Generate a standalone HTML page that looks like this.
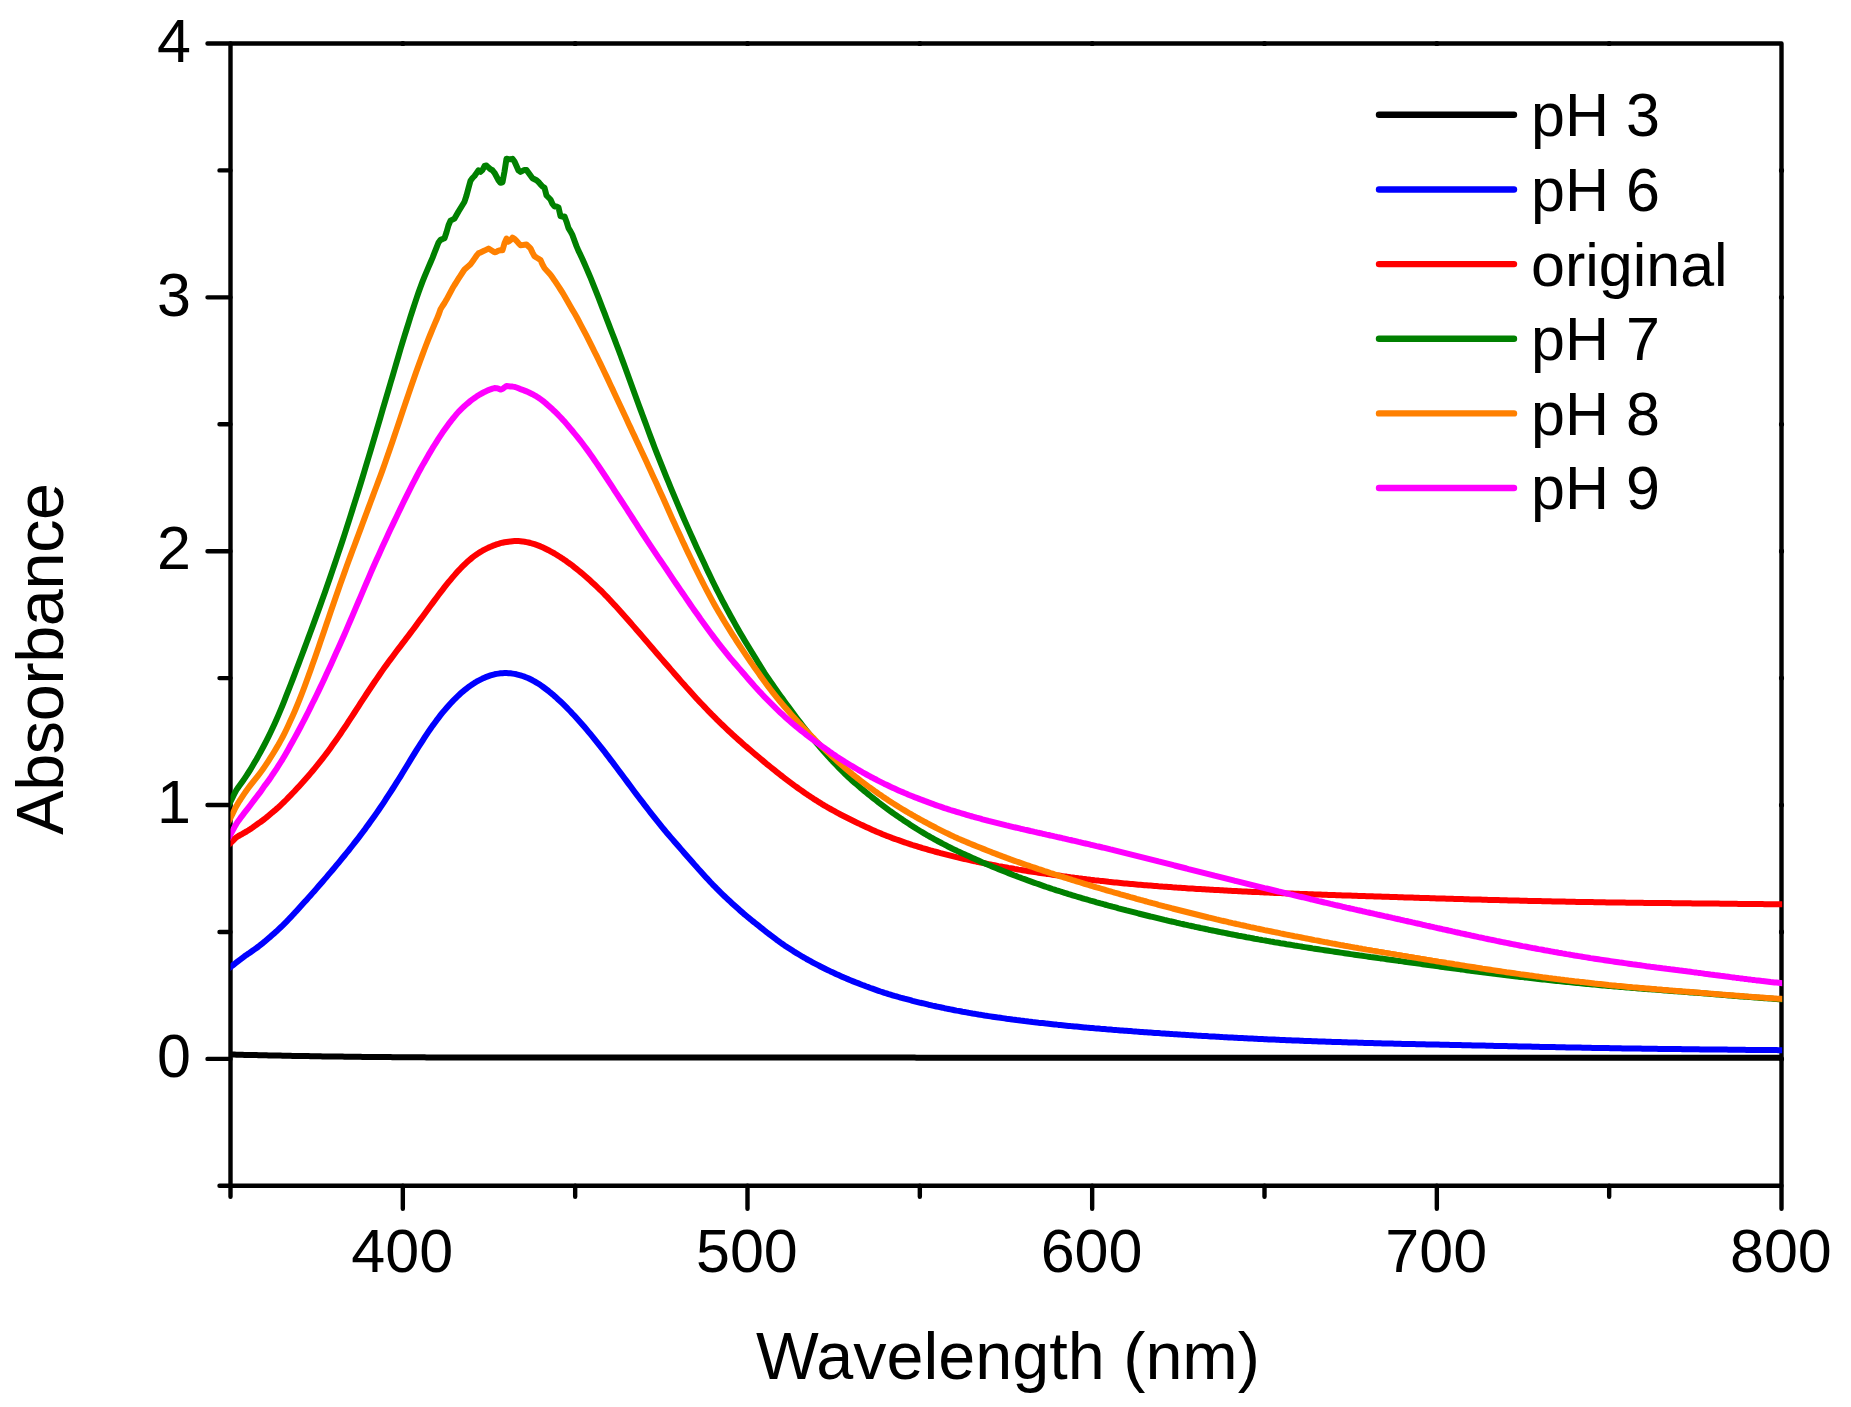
<!DOCTYPE html>
<html lang="en"><head><meta charset="utf-8"><title>UV-Vis absorbance vs wavelength</title>
<style>
html,body{margin:0;padding:0;background:#fff;}
body{width:1851px;height:1407px;overflow:hidden;position:relative;font-family:"Liberation Sans",sans-serif;}
</style></head><body>
<svg width="1851" height="1407" viewBox="0 0 1851 1407" style="display:block;position:absolute;left:0;top:0">
<rect width="1851" height="1407" fill="#fff"/>
<g stroke="#000" stroke-width="4.4" stroke-linecap="round" fill="none">
<path d="M230.5 43.5 H1781.5 M230.5 1185.8 H1781.5 M230.5 43.5 V1185.8 M1781.5 43.5 V1185.8"/>
<path d="M230.50 1185.8 v11 M402.83 1185.8 v23 M575.17 1185.8 v11 M747.50 1185.8 v23 M919.83 1185.8 v11 M1092.17 1185.8 v23 M1264.50 1185.8 v11 M1436.83 1185.8 v23 M1609.17 1185.8 v11 M1781.50 1185.8 v23 M230.5 1185.80 h-11 M230.5 1058.88 h-23 M230.5 931.96 h-11 M230.5 805.03 h-23 M230.5 678.11 h-11 M230.5 551.19 h-23 M230.5 424.27 h-11 M230.5 297.34 h-23 M230.5 170.42 h-11 M230.5 43.50 h-23"/>
<path stroke-width="5.2" d="M402.83 43.5 h0 M575.17 43.5 h0 M747.50 43.5 h0 M919.83 43.5 h0 M1092.17 43.5 h0 M1264.50 43.5 h0 M1436.83 43.5 h0 M1609.17 43.5 h0 M1781.5 1058.88 h0 M1781.5 931.96 h0 M1781.5 805.03 h0 M1781.5 678.11 h0 M1781.5 551.19 h0 M1781.5 424.27 h0 M1781.5 297.34 h0 M1781.5 170.42 h0"/>
</g>
<defs><clipPath id="pc"><rect x="230.5" y="43.5" width="1551.7" height="1142.3"/></clipPath></defs>
<g fill="none" stroke-width="6.0" stroke-linejoin="round" stroke-linecap="butt" clip-path="url(#pc)">
<path stroke="#000000" d="M218.5 1054.3 L220.5 1054.3 L222.5 1054.4 L224.5 1054.4 L226.5 1054.5 L228.5 1054.5 L230.5 1054.5 L232.5 1054.6 L234.5 1054.6 L236.5 1054.7 L238.5 1054.7 L240.5 1054.8 L242.5 1054.8 L244.5 1054.9 L246.5 1054.9 L248.5 1054.9 L250.5 1055.0 L252.5 1055.0 L254.5 1055.1 L256.5 1055.1 L258.5 1055.2 L260.5 1055.2 L262.5 1055.3 L264.5 1055.3 L266.5 1055.3 L268.5 1055.4 L270.5 1055.4 L272.5 1055.5 L274.5 1055.5 L276.5 1055.5 L278.5 1055.6 L280.5 1055.6 L282.5 1055.7 L284.5 1055.7 L286.5 1055.8 L288.5 1055.8 L290.5 1055.8 L292.5 1055.9 L294.5 1055.9 L296.5 1055.9 L298.5 1056.0 L300.5 1056.0 L302.5 1056.0 L304.5 1056.1 L306.5 1056.1 L308.5 1056.1 L310.5 1056.2 L312.5 1056.2 L314.5 1056.2 L316.5 1056.3 L318.5 1056.3 L320.5 1056.3 L322.5 1056.4 L324.5 1056.4 L326.5 1056.4 L328.5 1056.4 L330.5 1056.5 L332.5 1056.5 L334.5 1056.5 L336.5 1056.6 L338.5 1056.6 L340.5 1056.6 L342.5 1056.6 L344.5 1056.7 L346.5 1056.7 L348.5 1056.7 L350.5 1056.7 L352.5 1056.8 L354.5 1056.8 L356.5 1056.8 L358.5 1056.8 L360.5 1056.8 L362.5 1056.9 L364.5 1056.9 L366.5 1056.9 L368.5 1056.9 L370.5 1057.0 L372.5 1057.0 L374.5 1057.0 L376.5 1057.0 L378.5 1057.0 L380.5 1057.1 L382.5 1057.1 L384.5 1057.1 L386.5 1057.1 L388.5 1057.1 L390.5 1057.1 L392.5 1057.2 L394.5 1057.2 L396.5 1057.2 L398.5 1057.2 L400.5 1057.2 L402.5 1057.2 L404.5 1057.2 L406.5 1057.2 L408.5 1057.3 L410.5 1057.3 L412.5 1057.3 L414.5 1057.3 L416.5 1057.3 L418.5 1057.3 L420.5 1057.3 L422.5 1057.3 L424.5 1057.3 L426.5 1057.4 L428.5 1057.4 L430.5 1057.4 L432.5 1057.4 L434.5 1057.4 L436.5 1057.4 L438.5 1057.4 L440.5 1057.4 L442.5 1057.4 L444.5 1057.4 L446.5 1057.5 L448.5 1057.5 L450.5 1057.5 L452.5 1057.5 L454.5 1057.5 L456.5 1057.5 L458.5 1057.5 L460.5 1057.5 L462.5 1057.5 L464.5 1057.5 L466.5 1057.5 L468.5 1057.5 L470.5 1057.5 L472.5 1057.6 L474.5 1057.6 L476.5 1057.6 L478.5 1057.6 L480.5 1057.6 L482.5 1057.6 L484.5 1057.6 L486.5 1057.6 L488.5 1057.6 L490.5 1057.6 L492.5 1057.6 L494.5 1057.6 L496.5 1057.6 L498.5 1057.6 L500.5 1057.6 L502.5 1057.6 L504.5 1057.6 L506.5 1057.6 L508.5 1057.6 L510.5 1057.6 L512.5 1057.6 L514.5 1057.6 L516.5 1057.6 L518.5 1057.6 L520.5 1057.6 L522.5 1057.6 L524.5 1057.6 L526.5 1057.6 L528.5 1057.6 L530.5 1057.6 L532.5 1057.6 L534.5 1057.6 L536.5 1057.6 L538.5 1057.6 L540.5 1057.6 L542.5 1057.6 L544.5 1057.6 L546.5 1057.6 L548.5 1057.6 L550.5 1057.6 L552.5 1057.6 L554.5 1057.6 L556.5 1057.6 L558.5 1057.6 L560.5 1057.6 L562.5 1057.6 L564.5 1057.6 L566.5 1057.6 L568.5 1057.6 L570.5 1057.6 L572.5 1057.6 L574.5 1057.6 L576.5 1057.6 L578.5 1057.6 L580.5 1057.6 L582.5 1057.6 L584.5 1057.6 L586.5 1057.6 L588.5 1057.6 L590.5 1057.6 L592.5 1057.6 L594.5 1057.6 L596.5 1057.6 L598.5 1057.6 L600.5 1057.6 L602.5 1057.6 L604.5 1057.6 L606.5 1057.6 L608.5 1057.6 L610.5 1057.6 L612.5 1057.6 L614.5 1057.6 L616.5 1057.6 L618.5 1057.6 L620.5 1057.6 L622.5 1057.6 L624.5 1057.6 L626.5 1057.6 L628.5 1057.6 L630.5 1057.6 L632.5 1057.6 L634.5 1057.6 L636.5 1057.6 L638.5 1057.6 L640.5 1057.6 L642.5 1057.6 L644.5 1057.6 L646.5 1057.6 L648.5 1057.6 L650.5 1057.6 L652.5 1057.6 L654.5 1057.6 L656.5 1057.6 L658.5 1057.6 L660.5 1057.6 L662.5 1057.6 L664.5 1057.6 L666.5 1057.6 L668.5 1057.6 L670.5 1057.6 L672.5 1057.6 L674.5 1057.6 L676.5 1057.6 L678.5 1057.6 L680.5 1057.6 L682.5 1057.6 L684.5 1057.6 L686.5 1057.6 L688.5 1057.6 L690.5 1057.6 L692.5 1057.6 L694.5 1057.6 L696.5 1057.6 L698.5 1057.6 L700.5 1057.6 L702.5 1057.6 L704.5 1057.6 L706.5 1057.6 L708.5 1057.6 L710.5 1057.6 L712.5 1057.6 L714.5 1057.6 L716.5 1057.6 L718.5 1057.6 L720.5 1057.6 L722.5 1057.6 L724.5 1057.6 L726.5 1057.6 L728.5 1057.6 L730.5 1057.6 L732.5 1057.6 L734.5 1057.6 L736.5 1057.6 L738.5 1057.6 L740.5 1057.6 L742.5 1057.6 L744.5 1057.6 L746.5 1057.6 L748.5 1057.6 L750.5 1057.6 L752.5 1057.6 L754.5 1057.6 L756.5 1057.6 L758.5 1057.6 L760.5 1057.6 L762.5 1057.6 L764.5 1057.6 L766.5 1057.6 L768.5 1057.6 L770.5 1057.6 L772.5 1057.6 L774.5 1057.6 L776.5 1057.6 L778.5 1057.6 L780.5 1057.6 L782.5 1057.6 L784.5 1057.6 L786.5 1057.6 L788.5 1057.6 L790.5 1057.6 L792.5 1057.6 L794.5 1057.6 L796.5 1057.6 L798.5 1057.6 L800.5 1057.6 L802.5 1057.6 L804.5 1057.6 L806.5 1057.6 L808.5 1057.6 L810.5 1057.6 L812.5 1057.6 L814.5 1057.6 L816.5 1057.6 L818.5 1057.6 L820.5 1057.6 L822.5 1057.6 L824.5 1057.6 L826.5 1057.6 L828.5 1057.6 L830.5 1057.6 L832.5 1057.6 L834.5 1057.6 L836.5 1057.6 L838.5 1057.6 L840.5 1057.6 L842.5 1057.6 L844.5 1057.6 L846.5 1057.6 L848.5 1057.6 L850.5 1057.6 L852.5 1057.6 L854.5 1057.6 L856.5 1057.6 L858.5 1057.6 L860.5 1057.6 L862.5 1057.6 L864.5 1057.6 L866.5 1057.6 L868.5 1057.6 L870.5 1057.6 L872.5 1057.6 L874.5 1057.6 L876.5 1057.6 L878.5 1057.6 L880.5 1057.6 L882.5 1057.6 L884.5 1057.6 L886.5 1057.6 L888.5 1057.6 L890.5 1057.6 L892.5 1057.6 L894.5 1057.6 L896.5 1057.6 L898.5 1057.6 L900.5 1057.6 L902.5 1057.6 L904.5 1057.6 L906.5 1057.6 L908.5 1057.6 L910.5 1057.6 L912.5 1057.6 L914.5 1057.6 L916.5 1057.7 L918.5 1057.7 L920.5 1057.7 L922.5 1057.7 L924.5 1057.7 L926.5 1057.7 L928.5 1057.7 L930.5 1057.7 L932.5 1057.7 L934.5 1057.7 L936.5 1057.7 L938.5 1057.7 L940.5 1057.7 L942.5 1057.7 L944.5 1057.7 L946.5 1057.7 L948.5 1057.7 L950.5 1057.7 L952.5 1057.7 L954.5 1057.7 L956.5 1057.7 L958.5 1057.7 L960.5 1057.7 L962.5 1057.7 L964.5 1057.7 L966.5 1057.7 L968.5 1057.7 L970.5 1057.7 L972.5 1057.7 L974.5 1057.7 L976.5 1057.7 L978.5 1057.7 L980.5 1057.7 L982.5 1057.7 L984.5 1057.7 L986.5 1057.7 L988.5 1057.7 L990.5 1057.7 L992.5 1057.7 L994.5 1057.7 L996.5 1057.7 L998.5 1057.7 L1000.5 1057.7 L1002.5 1057.7 L1004.5 1057.7 L1006.5 1057.7 L1008.5 1057.7 L1010.5 1057.7 L1012.5 1057.7 L1014.5 1057.7 L1016.5 1057.7 L1018.5 1057.7 L1020.5 1057.7 L1022.5 1057.7 L1024.5 1057.7 L1026.5 1057.7 L1028.5 1057.7 L1030.5 1057.7 L1032.5 1057.7 L1034.5 1057.7 L1036.5 1057.7 L1038.5 1057.7 L1040.5 1057.7 L1042.5 1057.7 L1044.5 1057.7 L1046.5 1057.7 L1048.5 1057.7 L1050.5 1057.7 L1052.5 1057.7 L1054.5 1057.7 L1056.5 1057.7 L1058.5 1057.7 L1060.5 1057.7 L1062.5 1057.7 L1064.5 1057.7 L1066.5 1057.7 L1068.5 1057.7 L1070.5 1057.7 L1072.5 1057.7 L1074.5 1057.7 L1076.5 1057.7 L1078.5 1057.7 L1080.5 1057.7 L1082.5 1057.7 L1084.5 1057.7 L1086.5 1057.7 L1088.5 1057.7 L1090.5 1057.7 L1092.5 1057.7 L1094.5 1057.7 L1096.5 1057.7 L1098.5 1057.7 L1100.5 1057.7 L1102.5 1057.7 L1104.5 1057.7 L1106.5 1057.7 L1108.5 1057.7 L1110.5 1057.7 L1112.5 1057.7 L1114.5 1057.7 L1116.5 1057.7 L1118.5 1057.7 L1120.5 1057.7 L1122.5 1057.7 L1124.5 1057.7 L1126.5 1057.7 L1128.5 1057.7 L1130.5 1057.7 L1132.5 1057.7 L1134.5 1057.7 L1136.5 1057.7 L1138.5 1057.7 L1140.5 1057.7 L1142.5 1057.7 L1144.5 1057.7 L1146.5 1057.7 L1148.5 1057.7 L1150.5 1057.7 L1152.5 1057.7 L1154.5 1057.7 L1156.5 1057.7 L1158.5 1057.7 L1160.5 1057.7 L1162.5 1057.7 L1164.5 1057.7 L1166.5 1057.7 L1168.5 1057.7 L1170.5 1057.7 L1172.5 1057.7 L1174.5 1057.7 L1176.5 1057.7 L1178.5 1057.7 L1180.5 1057.7 L1182.5 1057.7 L1184.5 1057.7 L1186.5 1057.7 L1188.5 1057.7 L1190.5 1057.7 L1192.5 1057.7 L1194.5 1057.7 L1196.5 1057.7 L1198.5 1057.7 L1200.5 1057.7 L1202.5 1057.7 L1204.5 1057.7 L1206.5 1057.7 L1208.5 1057.7 L1210.5 1057.7 L1212.5 1057.7 L1214.5 1057.7 L1216.5 1057.7 L1218.5 1057.7 L1220.5 1057.7 L1222.5 1057.7 L1224.5 1057.7 L1226.5 1057.7 L1228.5 1057.7 L1230.5 1057.7 L1232.5 1057.7 L1234.5 1057.7 L1236.5 1057.7 L1238.5 1057.7 L1240.5 1057.7 L1242.5 1057.7 L1244.5 1057.7 L1246.5 1057.7 L1248.5 1057.7 L1250.5 1057.7 L1252.5 1057.7 L1254.5 1057.7 L1256.5 1057.7 L1258.5 1057.7 L1260.5 1057.7 L1262.5 1057.7 L1264.5 1057.7 L1266.5 1057.7 L1268.5 1057.7 L1270.5 1057.7 L1272.5 1057.7 L1274.5 1057.7 L1276.5 1057.7 L1278.5 1057.7 L1280.5 1057.7 L1282.5 1057.7 L1284.5 1057.7 L1286.5 1057.7 L1288.5 1057.7 L1290.5 1057.7 L1292.5 1057.7 L1294.5 1057.7 L1296.5 1057.7 L1298.5 1057.7 L1300.5 1057.7 L1302.5 1057.7 L1304.5 1057.7 L1306.5 1057.7 L1308.5 1057.7 L1310.5 1057.7 L1312.5 1057.7 L1314.5 1057.7 L1316.5 1057.7 L1318.5 1057.7 L1320.5 1057.7 L1322.5 1057.7 L1324.5 1057.7 L1326.5 1057.7 L1328.5 1057.7 L1330.5 1057.7 L1332.5 1057.7 L1334.5 1057.7 L1336.5 1057.7 L1338.5 1057.7 L1340.5 1057.7 L1342.5 1057.7 L1344.5 1057.7 L1346.5 1057.7 L1348.5 1057.7 L1350.5 1057.7 L1352.5 1057.7 L1354.5 1057.7 L1356.5 1057.7 L1358.5 1057.7 L1360.5 1057.7 L1362.5 1057.7 L1364.5 1057.7 L1366.5 1057.7 L1368.5 1057.7 L1370.5 1057.7 L1372.5 1057.7 L1374.5 1057.7 L1376.5 1057.7 L1378.5 1057.7 L1380.5 1057.7 L1382.5 1057.7 L1384.5 1057.7 L1386.5 1057.7 L1388.5 1057.7 L1390.5 1057.7 L1392.5 1057.7 L1394.5 1057.7 L1396.5 1057.7 L1398.5 1057.7 L1400.5 1057.7 L1402.5 1057.7 L1404.5 1057.7 L1406.5 1057.7 L1408.5 1057.7 L1410.5 1057.7 L1412.5 1057.7 L1414.5 1057.7 L1416.5 1057.7 L1418.5 1057.7 L1420.5 1057.7 L1422.5 1057.7 L1424.5 1057.7 L1426.5 1057.7 L1428.5 1057.7 L1430.5 1057.7 L1432.5 1057.7 L1434.5 1057.7 L1436.5 1057.7 L1438.5 1057.7 L1440.5 1057.7 L1442.5 1057.7 L1444.5 1057.7 L1446.5 1057.7 L1448.5 1057.7 L1450.5 1057.7 L1452.5 1057.7 L1454.5 1057.7 L1456.5 1057.7 L1458.5 1057.7 L1460.5 1057.7 L1462.5 1057.7 L1464.5 1057.7 L1466.5 1057.7 L1468.5 1057.7 L1470.5 1057.7 L1472.5 1057.7 L1474.5 1057.7 L1476.5 1057.7 L1478.5 1057.7 L1480.5 1057.7 L1482.5 1057.7 L1484.5 1057.7 L1486.5 1057.7 L1488.5 1057.7 L1490.5 1057.7 L1492.5 1057.7 L1494.5 1057.7 L1496.5 1057.7 L1498.5 1057.7 L1500.5 1057.7 L1502.5 1057.7 L1504.5 1057.7 L1506.5 1057.7 L1508.5 1057.7 L1510.5 1057.7 L1512.5 1057.7 L1514.5 1057.7 L1516.5 1057.7 L1518.5 1057.7 L1520.5 1057.7 L1522.5 1057.7 L1524.5 1057.7 L1526.5 1057.7 L1528.5 1057.7 L1530.5 1057.7 L1532.5 1057.7 L1534.5 1057.7 L1536.5 1057.7 L1538.5 1057.7 L1540.5 1057.7 L1542.5 1057.7 L1544.5 1057.7 L1546.5 1057.7 L1548.5 1057.7 L1550.5 1057.7 L1552.5 1057.7 L1554.5 1057.7 L1556.5 1057.7 L1558.5 1057.7 L1560.5 1057.7 L1562.5 1057.7 L1564.5 1057.7 L1566.5 1057.7 L1568.5 1057.7 L1570.5 1057.7 L1572.5 1057.7 L1574.5 1057.7 L1576.5 1057.7 L1578.5 1057.7 L1580.5 1057.7 L1582.5 1057.7 L1584.5 1057.7 L1586.5 1057.7 L1588.5 1057.7 L1590.5 1057.7 L1592.5 1057.7 L1594.5 1057.7 L1596.5 1057.7 L1598.5 1057.7 L1600.5 1057.7 L1602.5 1057.7 L1604.5 1057.7 L1606.5 1057.7 L1608.5 1057.7 L1610.5 1057.7 L1612.5 1057.7 L1614.5 1057.7 L1616.5 1057.7 L1618.5 1057.7 L1620.5 1057.7 L1622.5 1057.7 L1624.5 1057.7 L1626.5 1057.7 L1628.5 1057.7 L1630.5 1057.7 L1632.5 1057.7 L1634.5 1057.7 L1636.5 1057.7 L1638.5 1057.7 L1640.5 1057.7 L1642.5 1057.7 L1644.5 1057.7 L1646.5 1057.7 L1648.5 1057.7 L1650.5 1057.7 L1652.5 1057.7 L1654.5 1057.7 L1656.5 1057.7 L1658.5 1057.7 L1660.5 1057.7 L1662.5 1057.7 L1664.5 1057.7 L1666.5 1057.7 L1668.5 1057.7 L1670.5 1057.7 L1672.5 1057.7 L1674.5 1057.7 L1676.5 1057.7 L1678.5 1057.7 L1680.5 1057.7 L1682.5 1057.7 L1684.5 1057.7 L1686.5 1057.7 L1688.5 1057.7 L1690.5 1057.7 L1692.5 1057.7 L1694.5 1057.7 L1696.5 1057.7 L1698.5 1057.7 L1700.5 1057.7 L1702.5 1057.7 L1704.5 1057.7 L1706.5 1057.7 L1708.5 1057.7 L1710.5 1057.7 L1712.5 1057.7 L1714.5 1057.7 L1716.5 1057.7 L1718.5 1057.7 L1720.5 1057.7 L1722.5 1057.7 L1724.5 1057.7 L1726.5 1057.7 L1728.5 1057.7 L1730.5 1057.7 L1732.5 1057.7 L1734.5 1057.7 L1736.5 1057.7 L1738.5 1057.7 L1740.5 1057.7 L1742.5 1057.7 L1744.5 1057.7 L1746.5 1057.7 L1748.5 1057.7 L1750.5 1057.7 L1752.5 1057.7 L1754.5 1057.7 L1756.5 1057.7 L1758.5 1057.7 L1760.5 1057.7 L1762.5 1057.7 L1764.5 1057.7 L1766.5 1057.7 L1768.5 1057.7 L1770.5 1057.7 L1772.5 1057.7 L1774.5 1057.7 L1776.5 1057.7 L1778.5 1057.7 L1780.5 1057.7 L1782.5 1057.7 L1784.5 1057.7 L1786.5 1057.7 L1788.5 1057.7 L1790.5 1057.7 L1792.5 1057.7"/>
<path stroke="#0000ff" d="M218.5 976.0 L220.5 974.5 L222.5 973.0 L224.5 971.6 L226.5 970.1 L228.5 968.6 L230.5 967.1 L232.5 965.5 L234.5 964.0 L236.5 962.4 L238.5 960.8 L240.5 959.3 L242.5 957.8 L244.5 956.3 L246.5 954.9 L248.5 953.6 L250.5 952.2 L252.5 950.8 L254.5 949.4 L256.5 948.0 L258.5 946.5 L260.5 944.9 L262.5 943.3 L264.5 941.7 L266.5 940.0 L268.5 938.3 L270.5 936.6 L272.5 934.8 L274.5 933.1 L276.5 931.3 L278.5 929.4 L280.5 927.5 L282.5 925.6 L284.5 923.6 L286.5 921.6 L288.5 919.5 L290.5 917.4 L292.5 915.2 L294.5 913.1 L296.5 910.9 L298.5 908.7 L300.5 906.5 L302.5 904.3 L304.5 902.1 L306.5 899.9 L308.5 897.6 L310.5 895.4 L312.5 893.1 L314.5 890.9 L316.5 888.6 L318.5 886.3 L320.5 884.0 L322.5 881.7 L324.5 879.4 L326.5 877.1 L328.5 874.7 L330.5 872.4 L332.5 870.0 L334.5 867.6 L336.5 865.2 L338.5 862.8 L340.5 860.4 L342.5 857.9 L344.5 855.5 L346.5 853.0 L348.5 850.6 L350.5 848.0 L352.5 845.5 L354.5 842.9 L356.5 840.3 L358.5 837.8 L360.5 835.2 L362.5 832.5 L364.5 829.9 L366.5 827.1 L368.5 824.4 L370.5 821.6 L372.5 818.8 L374.5 816.0 L376.5 813.1 L378.5 810.2 L380.5 807.3 L382.5 804.3 L384.5 801.3 L386.5 798.2 L388.5 795.2 L390.5 792.1 L392.5 789.0 L394.5 785.9 L396.5 782.7 L398.5 779.5 L400.5 776.3 L402.5 773.0 L404.5 769.7 L406.5 766.5 L408.5 763.2 L410.5 759.9 L412.5 756.7 L414.5 753.4 L416.5 750.2 L418.5 747.0 L420.5 743.9 L422.5 740.8 L424.5 737.7 L426.5 734.7 L428.5 731.7 L430.5 728.8 L432.5 725.9 L434.5 723.2 L436.5 720.4 L438.5 717.8 L440.5 715.2 L442.5 712.7 L444.5 710.3 L446.5 708.0 L448.5 705.7 L450.5 703.5 L452.5 701.4 L454.5 699.3 L456.5 697.3 L458.5 695.4 L460.5 693.6 L462.5 691.8 L464.5 690.2 L466.5 688.6 L468.5 687.0 L470.5 685.6 L472.5 684.2 L474.5 682.9 L476.5 681.7 L478.5 680.6 L480.5 679.6 L482.5 678.6 L484.5 677.7 L486.5 676.8 L488.5 676.1 L490.5 675.4 L492.5 674.8 L494.5 674.3 L496.5 673.9 L498.5 673.6 L500.5 673.3 L502.5 673.2 L504.5 673.1 L506.5 673.1 L508.5 673.2 L510.5 673.3 L512.5 673.6 L514.5 673.9 L516.5 674.3 L518.5 674.8 L520.5 675.3 L522.5 676.0 L524.5 676.7 L526.5 677.5 L528.5 678.3 L530.5 679.3 L532.5 680.3 L534.5 681.4 L536.5 682.6 L538.5 683.8 L540.5 685.1 L542.5 686.5 L544.5 688.0 L546.5 689.5 L548.5 691.0 L550.5 692.7 L552.5 694.3 L554.5 696.1 L556.5 697.8 L558.5 699.7 L560.5 701.5 L562.5 703.4 L564.5 705.4 L566.5 707.4 L568.5 709.5 L570.5 711.5 L572.5 713.7 L574.5 715.8 L576.5 718.0 L578.5 720.2 L580.5 722.4 L582.5 724.7 L584.5 727.0 L586.5 729.4 L588.5 731.8 L590.5 734.2 L592.5 736.6 L594.5 739.1 L596.5 741.6 L598.5 744.1 L600.5 746.6 L602.5 749.2 L604.5 751.7 L606.5 754.3 L608.5 756.9 L610.5 759.6 L612.5 762.2 L614.5 764.8 L616.5 767.5 L618.5 770.2 L620.5 772.8 L622.5 775.5 L624.5 778.2 L626.5 780.9 L628.5 783.6 L630.5 786.3 L632.5 789.0 L634.5 791.7 L636.5 794.3 L638.5 797.0 L640.5 799.6 L642.5 802.2 L644.5 804.8 L646.5 807.4 L648.5 810.0 L650.5 812.6 L652.5 815.1 L654.5 817.7 L656.5 820.2 L658.5 822.7 L660.5 825.2 L662.5 827.6 L664.5 830.0 L666.5 832.5 L668.5 834.8 L670.5 837.1 L672.5 839.4 L674.5 841.7 L676.5 844.0 L678.5 846.3 L680.5 848.6 L682.5 850.9 L684.5 853.2 L686.5 855.5 L688.5 857.7 L690.5 860.0 L692.5 862.3 L694.5 864.6 L696.5 866.8 L698.5 869.1 L700.5 871.3 L702.5 873.5 L704.5 875.7 L706.5 877.9 L708.5 880.0 L710.5 882.2 L712.5 884.3 L714.5 886.3 L716.5 888.4 L718.5 890.4 L720.5 892.4 L722.5 894.3 L724.5 896.2 L726.5 898.1 L728.5 900.0 L730.5 901.8 L732.5 903.7 L734.5 905.5 L736.5 907.3 L738.5 909.1 L740.5 910.9 L742.5 912.6 L744.5 914.4 L746.5 916.0 L748.5 917.7 L750.5 919.3 L752.5 921.0 L754.5 922.5 L756.5 924.1 L758.5 925.7 L760.5 927.3 L762.5 928.9 L764.5 930.5 L766.5 932.1 L768.5 933.6 L770.5 935.2 L772.5 936.7 L774.5 938.2 L776.5 939.7 L778.5 941.1 L780.5 942.6 L782.5 944.0 L784.5 945.4 L786.5 946.7 L788.5 948.0 L790.5 949.3 L792.5 950.6 L794.5 951.9 L796.5 953.1 L798.5 954.3 L800.5 955.5 L802.5 956.7 L804.5 957.8 L806.5 959.0 L808.5 960.1 L810.5 961.2 L812.5 962.3 L814.5 963.4 L816.5 964.4 L818.5 965.4 L820.5 966.5 L822.5 967.5 L824.5 968.5 L826.5 969.5 L828.5 970.4 L830.5 971.4 L832.5 972.3 L834.5 973.2 L836.5 974.2 L838.5 975.1 L840.5 976.0 L842.5 976.9 L844.5 977.7 L846.5 978.6 L848.5 979.4 L850.5 980.3 L852.5 981.1 L854.5 981.9 L856.5 982.7 L858.5 983.4 L860.5 984.2 L862.5 985.0 L864.5 985.7 L866.5 986.5 L868.5 987.2 L870.5 988.0 L872.5 988.7 L874.5 989.4 L876.5 990.1 L878.5 990.8 L880.5 991.5 L882.5 992.1 L884.5 992.8 L886.5 993.4 L888.5 994.1 L890.5 994.7 L892.5 995.3 L894.5 995.9 L896.5 996.4 L898.5 997.0 L900.5 997.6 L902.5 998.1 L904.5 998.7 L906.5 999.2 L908.5 999.7 L910.5 1000.2 L912.5 1000.8 L914.5 1001.3 L916.5 1001.8 L918.5 1002.3 L920.5 1002.8 L922.5 1003.2 L924.5 1003.7 L926.5 1004.2 L928.5 1004.7 L930.5 1005.1 L932.5 1005.6 L934.5 1006.0 L936.5 1006.5 L938.5 1006.9 L940.5 1007.3 L942.5 1007.7 L944.5 1008.2 L946.5 1008.6 L948.5 1009.0 L950.5 1009.4 L952.5 1009.8 L954.5 1010.2 L956.5 1010.6 L958.5 1010.9 L960.5 1011.3 L962.5 1011.7 L964.5 1012.0 L966.5 1012.4 L968.5 1012.8 L970.5 1013.1 L972.5 1013.5 L974.5 1013.8 L976.5 1014.1 L978.5 1014.5 L980.5 1014.8 L982.5 1015.1 L984.5 1015.5 L986.5 1015.8 L988.5 1016.1 L990.5 1016.4 L992.5 1016.7 L994.5 1017.0 L996.5 1017.3 L998.5 1017.6 L1000.5 1017.8 L1002.5 1018.1 L1004.5 1018.4 L1006.5 1018.7 L1008.5 1018.9 L1010.5 1019.2 L1012.5 1019.5 L1014.5 1019.7 L1016.5 1020.0 L1018.5 1020.2 L1020.5 1020.5 L1022.5 1020.7 L1024.5 1021.0 L1026.5 1021.2 L1028.5 1021.5 L1030.5 1021.7 L1032.5 1022.0 L1034.5 1022.2 L1036.5 1022.4 L1038.5 1022.7 L1040.5 1022.9 L1042.5 1023.1 L1044.5 1023.3 L1046.5 1023.6 L1048.5 1023.8 L1050.5 1024.0 L1052.5 1024.2 L1054.5 1024.4 L1056.5 1024.6 L1058.5 1024.9 L1060.5 1025.1 L1062.5 1025.3 L1064.5 1025.5 L1066.5 1025.7 L1068.5 1025.9 L1070.5 1026.1 L1072.5 1026.2 L1074.5 1026.4 L1076.5 1026.6 L1078.5 1026.8 L1080.5 1027.0 L1082.5 1027.2 L1084.5 1027.4 L1086.5 1027.6 L1088.5 1027.7 L1090.5 1027.9 L1092.5 1028.1 L1094.5 1028.3 L1096.5 1028.4 L1098.5 1028.6 L1100.5 1028.8 L1102.5 1028.9 L1104.5 1029.1 L1106.5 1029.3 L1108.5 1029.4 L1110.5 1029.6 L1112.5 1029.8 L1114.5 1029.9 L1116.5 1030.1 L1118.5 1030.2 L1120.5 1030.4 L1122.5 1030.5 L1124.5 1030.7 L1126.5 1030.8 L1128.5 1031.0 L1130.5 1031.1 L1132.5 1031.3 L1134.5 1031.4 L1136.5 1031.6 L1138.5 1031.7 L1140.5 1031.9 L1142.5 1032.0 L1144.5 1032.2 L1146.5 1032.3 L1148.5 1032.5 L1150.5 1032.6 L1152.5 1032.7 L1154.5 1032.9 L1156.5 1033.0 L1158.5 1033.1 L1160.5 1033.3 L1162.5 1033.4 L1164.5 1033.5 L1166.5 1033.7 L1168.5 1033.8 L1170.5 1033.9 L1172.5 1034.1 L1174.5 1034.2 L1176.5 1034.3 L1178.5 1034.4 L1180.5 1034.6 L1182.5 1034.7 L1184.5 1034.8 L1186.5 1034.9 L1188.5 1035.1 L1190.5 1035.2 L1192.5 1035.3 L1194.5 1035.4 L1196.5 1035.6 L1198.5 1035.7 L1200.5 1035.8 L1202.5 1035.9 L1204.5 1036.0 L1206.5 1036.1 L1208.5 1036.3 L1210.5 1036.4 L1212.5 1036.5 L1214.5 1036.6 L1216.5 1036.7 L1218.5 1036.8 L1220.5 1036.9 L1222.5 1037.1 L1224.5 1037.2 L1226.5 1037.3 L1228.5 1037.4 L1230.5 1037.5 L1232.5 1037.6 L1234.5 1037.7 L1236.5 1037.8 L1238.5 1037.9 L1240.5 1038.0 L1242.5 1038.1 L1244.5 1038.2 L1246.5 1038.3 L1248.5 1038.4 L1250.5 1038.5 L1252.5 1038.6 L1254.5 1038.7 L1256.5 1038.8 L1258.5 1038.9 L1260.5 1039.0 L1262.5 1039.1 L1264.5 1039.2 L1266.5 1039.3 L1268.5 1039.4 L1270.5 1039.5 L1272.5 1039.6 L1274.5 1039.6 L1276.5 1039.7 L1278.5 1039.8 L1280.5 1039.9 L1282.5 1040.0 L1284.5 1040.1 L1286.5 1040.2 L1288.5 1040.2 L1290.5 1040.3 L1292.5 1040.4 L1294.5 1040.5 L1296.5 1040.6 L1298.5 1040.6 L1300.5 1040.7 L1302.5 1040.8 L1304.5 1040.9 L1306.5 1040.9 L1308.5 1041.0 L1310.5 1041.1 L1312.5 1041.2 L1314.5 1041.2 L1316.5 1041.3 L1318.5 1041.4 L1320.5 1041.5 L1322.5 1041.5 L1324.5 1041.6 L1326.5 1041.7 L1328.5 1041.7 L1330.5 1041.8 L1332.5 1041.9 L1334.5 1041.9 L1336.5 1042.0 L1338.5 1042.1 L1340.5 1042.1 L1342.5 1042.2 L1344.5 1042.3 L1346.5 1042.3 L1348.5 1042.4 L1350.5 1042.5 L1352.5 1042.5 L1354.5 1042.6 L1356.5 1042.6 L1358.5 1042.7 L1360.5 1042.8 L1362.5 1042.8 L1364.5 1042.9 L1366.5 1042.9 L1368.5 1043.0 L1370.5 1043.1 L1372.5 1043.1 L1374.5 1043.2 L1376.5 1043.2 L1378.5 1043.3 L1380.5 1043.3 L1382.5 1043.4 L1384.5 1043.4 L1386.5 1043.5 L1388.5 1043.5 L1390.5 1043.6 L1392.5 1043.6 L1394.5 1043.7 L1396.5 1043.7 L1398.5 1043.8 L1400.5 1043.8 L1402.5 1043.9 L1404.5 1043.9 L1406.5 1043.9 L1408.5 1044.0 L1410.5 1044.0 L1412.5 1044.1 L1414.5 1044.1 L1416.5 1044.2 L1418.5 1044.2 L1420.5 1044.2 L1422.5 1044.3 L1424.5 1044.3 L1426.5 1044.4 L1428.5 1044.4 L1430.5 1044.5 L1432.5 1044.5 L1434.5 1044.5 L1436.5 1044.6 L1438.5 1044.6 L1440.5 1044.7 L1442.5 1044.7 L1444.5 1044.8 L1446.5 1044.8 L1448.5 1044.8 L1450.5 1044.9 L1452.5 1044.9 L1454.5 1045.0 L1456.5 1045.0 L1458.5 1045.1 L1460.5 1045.1 L1462.5 1045.2 L1464.5 1045.2 L1466.5 1045.2 L1468.5 1045.3 L1470.5 1045.3 L1472.5 1045.4 L1474.5 1045.4 L1476.5 1045.5 L1478.5 1045.5 L1480.5 1045.6 L1482.5 1045.6 L1484.5 1045.6 L1486.5 1045.7 L1488.5 1045.7 L1490.5 1045.8 L1492.5 1045.8 L1494.5 1045.9 L1496.5 1045.9 L1498.5 1046.0 L1500.5 1046.0 L1502.5 1046.0 L1504.5 1046.1 L1506.5 1046.1 L1508.5 1046.2 L1510.5 1046.2 L1512.5 1046.3 L1514.5 1046.3 L1516.5 1046.3 L1518.5 1046.4 L1520.5 1046.4 L1522.5 1046.5 L1524.5 1046.5 L1526.5 1046.6 L1528.5 1046.6 L1530.5 1046.6 L1532.5 1046.7 L1534.5 1046.7 L1536.5 1046.8 L1538.5 1046.8 L1540.5 1046.9 L1542.5 1046.9 L1544.5 1046.9 L1546.5 1047.0 L1548.5 1047.0 L1550.5 1047.1 L1552.5 1047.1 L1554.5 1047.1 L1556.5 1047.2 L1558.5 1047.2 L1560.5 1047.3 L1562.5 1047.3 L1564.5 1047.3 L1566.5 1047.4 L1568.5 1047.4 L1570.5 1047.4 L1572.5 1047.5 L1574.5 1047.5 L1576.5 1047.6 L1578.5 1047.6 L1580.5 1047.6 L1582.5 1047.7 L1584.5 1047.7 L1586.5 1047.7 L1588.5 1047.8 L1590.5 1047.8 L1592.5 1047.9 L1594.5 1047.9 L1596.5 1047.9 L1598.5 1048.0 L1600.5 1048.0 L1602.5 1048.0 L1604.5 1048.1 L1606.5 1048.1 L1608.5 1048.1 L1610.5 1048.2 L1612.5 1048.2 L1614.5 1048.2 L1616.5 1048.3 L1618.5 1048.3 L1620.5 1048.3 L1622.5 1048.4 L1624.5 1048.4 L1626.5 1048.4 L1628.5 1048.4 L1630.5 1048.5 L1632.5 1048.5 L1634.5 1048.5 L1636.5 1048.6 L1638.5 1048.6 L1640.5 1048.6 L1642.5 1048.7 L1644.5 1048.7 L1646.5 1048.7 L1648.5 1048.7 L1650.5 1048.8 L1652.5 1048.8 L1654.5 1048.8 L1656.5 1048.8 L1658.5 1048.9 L1660.5 1048.9 L1662.5 1048.9 L1664.5 1048.9 L1666.5 1049.0 L1668.5 1049.0 L1670.5 1049.0 L1672.5 1049.0 L1674.5 1049.1 L1676.5 1049.1 L1678.5 1049.1 L1680.5 1049.1 L1682.5 1049.2 L1684.5 1049.2 L1686.5 1049.2 L1688.5 1049.2 L1690.5 1049.2 L1692.5 1049.3 L1694.5 1049.3 L1696.5 1049.3 L1698.5 1049.3 L1700.5 1049.4 L1702.5 1049.4 L1704.5 1049.4 L1706.5 1049.4 L1708.5 1049.4 L1710.5 1049.5 L1712.5 1049.5 L1714.5 1049.5 L1716.5 1049.5 L1718.5 1049.6 L1720.5 1049.6 L1722.5 1049.6 L1724.5 1049.6 L1726.5 1049.6 L1728.5 1049.7 L1730.5 1049.7 L1732.5 1049.7 L1734.5 1049.7 L1736.5 1049.7 L1738.5 1049.8 L1740.5 1049.8 L1742.5 1049.8 L1744.5 1049.8 L1746.5 1049.9 L1748.5 1049.9 L1750.5 1049.9 L1752.5 1049.9 L1754.5 1049.9 L1756.5 1050.0 L1758.5 1050.0 L1760.5 1050.0 L1762.5 1050.0 L1764.5 1050.0 L1766.5 1050.0 L1768.5 1050.1 L1770.5 1050.1 L1772.5 1050.1 L1774.5 1050.1 L1776.5 1050.1 L1778.5 1050.2 L1780.5 1050.2 L1782.5 1050.2 L1784.5 1050.2 L1786.5 1050.2 L1788.5 1050.2 L1790.5 1050.3 L1792.5 1050.3"/>
<path stroke="#ff0000" d="M218.5 852.9 L220.5 851.4 L222.5 849.8 L224.5 848.2 L226.5 846.6 L228.5 844.9 L230.5 843.2 L232.5 841.2 L234.5 839.1 L236.5 837.3 L238.5 836.0 L240.5 834.9 L242.5 833.8 L244.5 832.6 L246.5 831.5 L248.5 830.3 L250.5 829.0 L252.5 827.6 L254.5 826.1 L256.5 824.7 L258.5 823.3 L260.5 822.0 L262.5 820.5 L264.5 819.0 L266.5 817.4 L268.5 815.7 L270.5 814.0 L272.5 812.3 L274.5 810.7 L276.5 808.9 L278.5 807.2 L280.5 805.3 L282.5 803.4 L284.5 801.5 L286.5 799.5 L288.5 797.4 L290.5 795.4 L292.5 793.3 L294.5 791.2 L296.5 789.0 L298.5 786.9 L300.5 784.7 L302.5 782.5 L304.5 780.2 L306.5 778.0 L308.5 775.7 L310.5 773.4 L312.5 771.0 L314.5 768.6 L316.5 766.2 L318.5 763.7 L320.5 761.2 L322.5 758.6 L324.5 756.0 L326.5 753.4 L328.5 750.7 L330.5 747.9 L332.5 745.1 L334.5 742.3 L336.5 739.5 L338.5 736.6 L340.5 733.7 L342.5 730.7 L344.5 727.8 L346.5 724.8 L348.5 721.7 L350.5 718.7 L352.5 715.6 L354.5 712.5 L356.5 709.4 L358.5 706.3 L360.5 703.2 L362.5 700.2 L364.5 697.1 L366.5 694.0 L368.5 691.0 L370.5 688.0 L372.5 685.0 L374.5 682.0 L376.5 679.1 L378.5 676.2 L380.5 673.3 L382.5 670.4 L384.5 667.6 L386.5 664.9 L388.5 662.1 L390.5 659.4 L392.5 656.7 L394.5 654.0 L396.5 651.3 L398.5 648.7 L400.5 646.1 L402.5 643.4 L404.5 640.8 L406.5 638.2 L408.5 635.6 L410.5 632.9 L412.5 630.2 L414.5 627.6 L416.5 624.9 L418.5 622.1 L420.5 619.4 L422.5 616.7 L424.5 614.0 L426.5 611.3 L428.5 608.5 L430.5 605.8 L432.5 603.1 L434.5 600.4 L436.5 597.7 L438.5 595.0 L440.5 592.4 L442.5 589.8 L444.5 587.2 L446.5 584.7 L448.5 582.2 L450.5 579.8 L452.5 577.4 L454.5 575.1 L456.5 572.8 L458.5 570.6 L460.5 568.5 L462.5 566.4 L464.5 564.5 L466.5 562.6 L468.5 560.8 L470.5 559.1 L472.5 557.4 L474.5 555.9 L476.5 554.5 L478.5 553.1 L480.5 551.9 L482.5 550.7 L484.5 549.6 L486.5 548.6 L488.5 547.6 L490.5 546.8 L492.5 545.9 L494.5 545.2 L496.5 544.4 L498.5 543.8 L500.5 543.2 L502.5 542.7 L504.5 542.3 L506.5 542.0 L508.5 541.7 L510.5 541.4 L512.5 541.2 L514.5 541.1 L516.5 541.1 L518.5 541.1 L520.5 541.2 L522.5 541.4 L524.5 541.7 L526.5 542.1 L528.5 542.5 L530.5 543.0 L532.5 543.6 L534.5 544.2 L536.5 544.9 L538.5 545.6 L540.5 546.4 L542.5 547.3 L544.5 548.2 L546.5 549.2 L548.5 550.2 L550.5 551.3 L552.5 552.4 L554.5 553.5 L556.5 554.7 L558.5 556.0 L560.5 557.2 L562.5 558.6 L564.5 559.9 L566.5 561.3 L568.5 562.8 L570.5 564.2 L572.5 565.7 L574.5 567.3 L576.5 568.9 L578.5 570.5 L580.5 572.1 L582.5 573.8 L584.5 575.5 L586.5 577.2 L588.5 579.0 L590.5 580.8 L592.5 582.7 L594.5 584.5 L596.5 586.4 L598.5 588.3 L600.5 590.2 L602.5 592.2 L604.5 594.3 L606.5 596.3 L608.5 598.4 L610.5 600.6 L612.5 602.7 L614.5 604.9 L616.5 607.0 L618.5 609.2 L620.5 611.4 L622.5 613.7 L624.5 615.9 L626.5 618.2 L628.5 620.5 L630.5 622.8 L632.5 625.1 L634.5 627.4 L636.5 629.7 L638.5 632.0 L640.5 634.3 L642.5 636.7 L644.5 639.0 L646.5 641.3 L648.5 643.7 L650.5 646.0 L652.5 648.3 L654.5 650.7 L656.5 653.0 L658.5 655.3 L660.5 657.6 L662.5 659.9 L664.5 662.2 L666.5 664.5 L668.5 666.8 L670.5 669.1 L672.5 671.4 L674.5 673.7 L676.5 676.0 L678.5 678.3 L680.5 680.6 L682.5 682.9 L684.5 685.1 L686.5 687.4 L688.5 689.6 L690.5 691.8 L692.5 694.0 L694.5 696.2 L696.5 698.4 L698.5 700.6 L700.5 702.7 L702.5 704.8 L704.5 706.9 L706.5 709.0 L708.5 711.1 L710.5 713.1 L712.5 715.2 L714.5 717.2 L716.5 719.2 L718.5 721.1 L720.5 723.1 L722.5 725.0 L724.5 726.9 L726.5 728.8 L728.5 730.7 L730.5 732.6 L732.5 734.4 L734.5 736.2 L736.5 738.1 L738.5 739.9 L740.5 741.6 L742.5 743.4 L744.5 745.2 L746.5 746.9 L748.5 748.6 L750.5 750.3 L752.5 752.0 L754.5 753.7 L756.5 755.4 L758.5 757.0 L760.5 758.7 L762.5 760.4 L764.5 762.1 L766.5 763.8 L768.5 765.4 L770.5 767.0 L772.5 768.6 L774.5 770.2 L776.5 771.8 L778.5 773.4 L780.5 775.0 L782.5 776.5 L784.5 778.1 L786.5 779.6 L788.5 781.1 L790.5 782.6 L792.5 784.1 L794.5 785.6 L796.5 787.0 L798.5 788.5 L800.5 789.9 L802.5 791.3 L804.5 792.7 L806.5 794.1 L808.5 795.4 L810.5 796.8 L812.5 798.1 L814.5 799.4 L816.5 800.6 L818.5 801.9 L820.5 803.1 L822.5 804.4 L824.5 805.6 L826.5 806.7 L828.5 807.9 L830.5 809.0 L832.5 810.1 L834.5 811.2 L836.5 812.3 L838.5 813.4 L840.5 814.5 L842.5 815.5 L844.5 816.5 L846.5 817.5 L848.5 818.5 L850.5 819.5 L852.5 820.5 L854.5 821.5 L856.5 822.5 L858.5 823.4 L860.5 824.4 L862.5 825.3 L864.5 826.3 L866.5 827.2 L868.5 828.1 L870.5 829.0 L872.5 829.9 L874.5 830.8 L876.5 831.7 L878.5 832.5 L880.5 833.3 L882.5 834.2 L884.5 835.0 L886.5 835.8 L888.5 836.5 L890.5 837.3 L892.5 838.1 L894.5 838.8 L896.5 839.5 L898.5 840.2 L900.5 840.9 L902.5 841.6 L904.5 842.3 L906.5 843.0 L908.5 843.7 L910.5 844.3 L912.5 845.0 L914.5 845.6 L916.5 846.2 L918.5 846.8 L920.5 847.4 L922.5 848.1 L924.5 848.6 L926.5 849.2 L928.5 849.8 L930.5 850.4 L932.5 850.9 L934.5 851.5 L936.5 852.0 L938.5 852.5 L940.5 853.1 L942.5 853.6 L944.5 854.1 L946.5 854.6 L948.5 855.1 L950.5 855.6 L952.5 856.1 L954.5 856.6 L956.5 857.1 L958.5 857.5 L960.5 858.0 L962.5 858.5 L964.5 859.0 L966.5 859.4 L968.5 859.9 L970.5 860.3 L972.5 860.8 L974.5 861.2 L976.5 861.7 L978.5 862.1 L980.5 862.5 L982.5 862.9 L984.5 863.3 L986.5 863.7 L988.5 864.1 L990.5 864.5 L992.5 864.9 L994.5 865.3 L996.5 865.7 L998.5 866.1 L1000.5 866.4 L1002.5 866.8 L1004.5 867.1 L1006.5 867.5 L1008.5 867.9 L1010.5 868.2 L1012.5 868.5 L1014.5 868.9 L1016.5 869.2 L1018.5 869.6 L1020.5 869.9 L1022.5 870.2 L1024.5 870.5 L1026.5 870.8 L1028.5 871.2 L1030.5 871.5 L1032.5 871.8 L1034.5 872.1 L1036.5 872.4 L1038.5 872.7 L1040.5 873.0 L1042.5 873.3 L1044.5 873.6 L1046.5 873.9 L1048.5 874.1 L1050.5 874.4 L1052.5 874.7 L1054.5 875.0 L1056.5 875.3 L1058.5 875.5 L1060.5 875.8 L1062.5 876.1 L1064.5 876.4 L1066.5 876.6 L1068.5 876.9 L1070.5 877.2 L1072.5 877.4 L1074.5 877.7 L1076.5 877.9 L1078.5 878.2 L1080.5 878.4 L1082.5 878.7 L1084.5 878.9 L1086.5 879.2 L1088.5 879.4 L1090.5 879.7 L1092.5 879.9 L1094.5 880.2 L1096.5 880.4 L1098.5 880.6 L1100.5 880.9 L1102.5 881.1 L1104.5 881.3 L1106.5 881.5 L1108.5 881.8 L1110.5 882.0 L1112.5 882.2 L1114.5 882.4 L1116.5 882.6 L1118.5 882.8 L1120.5 883.0 L1122.5 883.2 L1124.5 883.4 L1126.5 883.6 L1128.5 883.8 L1130.5 884.0 L1132.5 884.1 L1134.5 884.3 L1136.5 884.5 L1138.5 884.7 L1140.5 884.8 L1142.5 885.0 L1144.5 885.2 L1146.5 885.3 L1148.5 885.5 L1150.5 885.6 L1152.5 885.8 L1154.5 886.0 L1156.5 886.1 L1158.5 886.3 L1160.5 886.4 L1162.5 886.6 L1164.5 886.7 L1166.5 886.8 L1168.5 887.0 L1170.5 887.1 L1172.5 887.3 L1174.5 887.4 L1176.5 887.6 L1178.5 887.7 L1180.5 887.8 L1182.5 888.0 L1184.5 888.1 L1186.5 888.2 L1188.5 888.4 L1190.5 888.5 L1192.5 888.6 L1194.5 888.7 L1196.5 888.9 L1198.5 889.0 L1200.5 889.1 L1202.5 889.2 L1204.5 889.3 L1206.5 889.5 L1208.5 889.6 L1210.5 889.7 L1212.5 889.8 L1214.5 889.9 L1216.5 890.0 L1218.5 890.1 L1220.5 890.2 L1222.5 890.3 L1224.5 890.5 L1226.5 890.6 L1228.5 890.7 L1230.5 890.8 L1232.5 890.9 L1234.5 891.0 L1236.5 891.1 L1238.5 891.2 L1240.5 891.3 L1242.5 891.4 L1244.5 891.5 L1246.5 891.6 L1248.5 891.7 L1250.5 891.8 L1252.5 891.9 L1254.5 892.0 L1256.5 892.1 L1258.5 892.1 L1260.5 892.2 L1262.5 892.3 L1264.5 892.4 L1266.5 892.5 L1268.5 892.6 L1270.5 892.7 L1272.5 892.8 L1274.5 892.9 L1276.5 892.9 L1278.5 893.0 L1280.5 893.1 L1282.5 893.2 L1284.5 893.3 L1286.5 893.4 L1288.5 893.4 L1290.5 893.5 L1292.5 893.6 L1294.5 893.7 L1296.5 893.8 L1298.5 893.8 L1300.5 893.9 L1302.5 894.0 L1304.5 894.1 L1306.5 894.1 L1308.5 894.2 L1310.5 894.3 L1312.5 894.3 L1314.5 894.4 L1316.5 894.5 L1318.5 894.6 L1320.5 894.6 L1322.5 894.7 L1324.5 894.8 L1326.5 894.8 L1328.5 894.9 L1330.5 895.0 L1332.5 895.0 L1334.5 895.1 L1336.5 895.2 L1338.5 895.2 L1340.5 895.3 L1342.5 895.4 L1344.5 895.4 L1346.5 895.5 L1348.5 895.6 L1350.5 895.6 L1352.5 895.7 L1354.5 895.8 L1356.5 895.8 L1358.5 895.9 L1360.5 896.0 L1362.5 896.0 L1364.5 896.1 L1366.5 896.2 L1368.5 896.2 L1370.5 896.3 L1372.5 896.3 L1374.5 896.4 L1376.5 896.5 L1378.5 896.5 L1380.5 896.6 L1382.5 896.7 L1384.5 896.7 L1386.5 896.8 L1388.5 896.8 L1390.5 896.9 L1392.5 897.0 L1394.5 897.0 L1396.5 897.1 L1398.5 897.2 L1400.5 897.2 L1402.5 897.3 L1404.5 897.4 L1406.5 897.4 L1408.5 897.5 L1410.5 897.5 L1412.5 897.6 L1414.5 897.7 L1416.5 897.7 L1418.5 897.8 L1420.5 897.9 L1422.5 897.9 L1424.5 898.0 L1426.5 898.0 L1428.5 898.1 L1430.5 898.2 L1432.5 898.2 L1434.5 898.3 L1436.5 898.4 L1438.5 898.4 L1440.5 898.5 L1442.5 898.5 L1444.5 898.6 L1446.5 898.7 L1448.5 898.7 L1450.5 898.8 L1452.5 898.8 L1454.5 898.9 L1456.5 899.0 L1458.5 899.0 L1460.5 899.1 L1462.5 899.1 L1464.5 899.2 L1466.5 899.2 L1468.5 899.3 L1470.5 899.4 L1472.5 899.4 L1474.5 899.5 L1476.5 899.5 L1478.5 899.6 L1480.5 899.6 L1482.5 899.7 L1484.5 899.7 L1486.5 899.8 L1488.5 899.9 L1490.5 899.9 L1492.5 900.0 L1494.5 900.0 L1496.5 900.1 L1498.5 900.1 L1500.5 900.2 L1502.5 900.2 L1504.5 900.3 L1506.5 900.3 L1508.5 900.4 L1510.5 900.4 L1512.5 900.5 L1514.5 900.5 L1516.5 900.6 L1518.5 900.6 L1520.5 900.7 L1522.5 900.7 L1524.5 900.8 L1526.5 900.8 L1528.5 900.9 L1530.5 900.9 L1532.5 900.9 L1534.5 901.0 L1536.5 901.0 L1538.5 901.1 L1540.5 901.1 L1542.5 901.2 L1544.5 901.2 L1546.5 901.3 L1548.5 901.3 L1550.5 901.3 L1552.5 901.4 L1554.5 901.4 L1556.5 901.5 L1558.5 901.5 L1560.5 901.5 L1562.5 901.6 L1564.5 901.6 L1566.5 901.7 L1568.5 901.7 L1570.5 901.7 L1572.5 901.8 L1574.5 901.8 L1576.5 901.9 L1578.5 901.9 L1580.5 901.9 L1582.5 902.0 L1584.5 902.0 L1586.5 902.0 L1588.5 902.1 L1590.5 902.1 L1592.5 902.1 L1594.5 902.2 L1596.5 902.2 L1598.5 902.2 L1600.5 902.3 L1602.5 902.3 L1604.5 902.3 L1606.5 902.4 L1608.5 902.4 L1610.5 902.4 L1612.5 902.5 L1614.5 902.5 L1616.5 902.5 L1618.5 902.5 L1620.5 902.6 L1622.5 902.6 L1624.5 902.6 L1626.5 902.7 L1628.5 902.7 L1630.5 902.7 L1632.5 902.7 L1634.5 902.8 L1636.5 902.8 L1638.5 902.8 L1640.5 902.8 L1642.5 902.8 L1644.5 902.9 L1646.5 902.9 L1648.5 902.9 L1650.5 902.9 L1652.5 903.0 L1654.5 903.0 L1656.5 903.0 L1658.5 903.0 L1660.5 903.0 L1662.5 903.1 L1664.5 903.1 L1666.5 903.1 L1668.5 903.1 L1670.5 903.1 L1672.5 903.2 L1674.5 903.2 L1676.5 903.2 L1678.5 903.2 L1680.5 903.2 L1682.5 903.3 L1684.5 903.3 L1686.5 903.3 L1688.5 903.3 L1690.5 903.3 L1692.5 903.4 L1694.5 903.4 L1696.5 903.4 L1698.5 903.4 L1700.5 903.4 L1702.5 903.5 L1704.5 903.5 L1706.5 903.5 L1708.5 903.5 L1710.5 903.5 L1712.5 903.6 L1714.5 903.6 L1716.5 903.6 L1718.5 903.6 L1720.5 903.7 L1722.5 903.7 L1724.5 903.7 L1726.5 903.7 L1728.5 903.8 L1730.5 903.8 L1732.5 903.8 L1734.5 903.8 L1736.5 903.8 L1738.5 903.9 L1740.5 903.9 L1742.5 903.9 L1744.5 903.9 L1746.5 904.0 L1748.5 904.0 L1750.5 904.0 L1752.5 904.0 L1754.5 904.0 L1756.5 904.1 L1758.5 904.1 L1760.5 904.1 L1762.5 904.1 L1764.5 904.2 L1766.5 904.2 L1768.5 904.2 L1770.5 904.2 L1772.5 904.2 L1774.5 904.3 L1776.5 904.3 L1778.5 904.3 L1780.5 904.3 L1782.5 904.3 L1784.5 904.4 L1786.5 904.4 L1788.5 904.4 L1790.5 904.4 L1792.5 904.4"/>
<path stroke="#008000" d="M218.5 822.3 L220.5 819.0 L222.5 815.6 L224.5 812.2 L226.5 808.7 L228.5 805.2 L230.5 801.6 L232.5 797.6 L234.5 793.5 L236.5 789.9 L238.5 787.0 L240.5 784.3 L242.5 781.5 L244.5 778.6 L246.5 775.6 L248.5 772.5 L250.5 769.3 L252.5 766.0 L254.5 762.6 L256.5 759.2 L258.5 755.6 L260.5 752.0 L262.5 748.3 L264.5 744.5 L266.5 740.6 L268.5 736.6 L270.5 732.5 L272.5 728.2 L274.5 723.9 L276.5 719.5 L278.5 714.9 L280.5 710.2 L282.5 705.3 L284.5 700.3 L286.5 695.2 L288.5 690.2 L290.5 685.0 L292.5 679.8 L294.5 674.6 L296.5 669.3 L298.5 664.1 L300.5 658.8 L302.5 653.5 L304.5 648.1 L306.5 642.8 L308.5 637.4 L310.5 632.0 L312.5 626.6 L314.5 621.1 L316.5 615.6 L318.5 610.1 L320.5 604.6 L322.5 599.0 L324.5 593.4 L326.5 587.8 L328.5 582.1 L330.5 576.3 L332.5 570.4 L334.5 564.5 L336.5 558.6 L338.5 552.6 L340.5 546.7 L342.5 540.7 L344.5 534.6 L346.5 528.4 L348.5 522.1 L350.5 515.8 L352.5 509.5 L354.5 503.2 L356.5 496.9 L358.5 490.5 L360.5 484.0 L362.5 477.5 L364.5 470.9 L366.5 464.2 L368.5 457.5 L370.5 450.8 L372.5 444.1 L374.5 437.4 L376.5 430.7 L378.5 423.9 L380.5 417.1 L382.5 410.2 L384.5 403.4 L386.5 396.6 L388.5 389.8 L390.5 383.0 L392.5 376.3 L394.5 369.5 L396.5 362.7 L398.5 355.9 L400.5 349.0 L402.5 342.3 L404.5 335.9 L406.5 329.5 L408.5 323.1 L410.5 316.7 L412.5 310.5 L414.5 304.4 L416.5 298.4 L418.5 292.6 L420.5 287.0 L422.5 281.6 L424.5 276.6 L426.5 271.9 L428.5 267.2 L430.5 262.5 L432.5 257.8 L434.5 252.7 L436.5 247.6 L438.5 242.5 L440.5 239.9 L442.5 239.1 L444.5 238.2 L446.5 232.2 L448.5 225.2 L450.5 220.6 L452.5 219.6 L454.5 218.6 L456.5 215.1 L458.5 211.5 L460.5 208.2 L462.5 205.0 L464.5 201.7 L466.5 195.5 L468.5 188.0 L470.5 180.7 L472.5 178.0 L474.5 176.0 L476.5 173.1 L478.5 170.3 L480.5 171.8 L482.5 170.0 L484.5 166.0 L486.5 165.5 L488.5 167.5 L490.5 169.3 L492.5 170.3 L494.5 172.8 L496.5 176.5 L498.5 180.3 L500.5 182.8 L502.5 182.3 L504.5 171.5 L506.5 158.7 L508.5 159.2 L510.5 159.3 L512.5 158.8 L514.5 161.5 L516.5 166.0 L518.5 170.4 L520.5 171.9 L522.5 170.9 L524.5 169.9 L526.5 170.0 L528.5 172.8 L530.5 175.5 L532.5 178.2 L534.5 179.2 L536.5 180.2 L538.5 182.0 L540.5 184.4 L542.5 186.5 L544.5 187.8 L546.5 195.5 L548.5 197.5 L550.5 199.5 L552.5 204.0 L554.5 206.5 L556.5 206.5 L558.5 207.4 L560.5 216.1 L562.5 216.7 L564.5 216.4 L566.5 221.7 L568.5 228.1 L570.5 231.4 L572.5 235.2 L574.5 240.8 L576.5 246.1 L578.5 250.9 L580.5 254.9 L582.5 259.2 L584.5 263.8 L586.5 268.4 L588.5 273.0 L590.5 277.7 L592.5 282.6 L594.5 287.6 L596.5 292.6 L598.5 297.7 L600.5 302.9 L602.5 308.1 L604.5 313.1 L606.5 318.5 L608.5 323.7 L610.5 328.8 L612.5 334.0 L614.5 339.2 L616.5 344.5 L618.5 349.7 L620.5 355.0 L622.5 360.4 L624.5 365.8 L626.5 371.3 L628.5 376.8 L630.5 382.3 L632.5 387.7 L634.5 393.2 L636.5 398.7 L638.5 404.2 L640.5 409.6 L642.5 415.0 L644.5 420.4 L646.5 425.8 L648.5 431.2 L650.5 436.6 L652.5 441.9 L654.5 447.2 L656.5 452.3 L658.5 457.4 L660.5 462.4 L662.5 467.4 L664.5 472.4 L666.5 477.3 L668.5 482.2 L670.5 487.1 L672.5 491.9 L674.5 496.7 L676.5 501.4 L678.5 506.2 L680.5 510.8 L682.5 515.5 L684.5 520.1 L686.5 524.6 L688.5 529.1 L690.5 533.6 L692.5 538.0 L694.5 542.5 L696.5 546.9 L698.5 551.2 L700.5 555.5 L702.5 559.8 L704.5 564.1 L706.5 568.4 L708.5 572.6 L710.5 576.8 L712.5 581.0 L714.5 585.0 L716.5 589.1 L718.5 593.0 L720.5 596.9 L722.5 600.8 L724.5 604.5 L726.5 608.3 L728.5 612.0 L730.5 615.7 L732.5 619.3 L734.5 622.9 L736.5 626.4 L738.5 629.9 L740.5 633.4 L742.5 636.8 L744.5 640.2 L746.5 643.5 L748.5 646.8 L750.5 650.0 L752.5 653.3 L754.5 656.5 L756.5 659.8 L758.5 663.2 L760.5 666.4 L762.5 669.6 L764.5 672.8 L766.5 675.8 L768.5 678.7 L770.5 681.6 L772.5 684.5 L774.5 687.4 L776.5 690.2 L778.5 693.1 L780.5 695.9 L782.5 698.6 L784.5 701.4 L786.5 704.2 L788.5 706.9 L790.5 709.6 L792.5 712.3 L794.5 715.0 L796.5 717.7 L798.5 720.3 L800.5 722.9 L802.5 725.5 L804.5 728.1 L806.5 730.6 L808.5 733.2 L810.5 735.6 L812.5 738.1 L814.5 740.6 L816.5 743.0 L818.5 745.4 L820.5 747.7 L822.5 750.0 L824.5 752.3 L826.5 754.5 L828.5 756.8 L830.5 758.9 L832.5 761.1 L834.5 763.2 L836.5 765.3 L838.5 767.4 L840.5 769.5 L842.5 771.5 L844.5 773.5 L846.5 775.4 L848.5 777.3 L850.5 779.1 L852.5 780.9 L854.5 782.6 L856.5 784.3 L858.5 786.0 L860.5 787.8 L862.5 789.4 L864.5 791.1 L866.5 792.7 L868.5 794.4 L870.5 796.0 L872.5 797.6 L874.5 799.2 L876.5 800.7 L878.5 802.3 L880.5 803.8 L882.5 805.3 L884.5 806.8 L886.5 808.3 L888.5 809.8 L890.5 811.3 L892.5 812.7 L894.5 814.1 L896.5 815.5 L898.5 816.9 L900.5 818.3 L902.5 819.6 L904.5 821.0 L906.5 822.3 L908.5 823.6 L910.5 824.9 L912.5 826.2 L914.5 827.5 L916.5 828.8 L918.5 830.0 L920.5 831.2 L922.5 832.4 L924.5 833.6 L926.5 834.8 L928.5 835.9 L930.5 837.1 L932.5 838.2 L934.5 839.3 L936.5 840.4 L938.5 841.5 L940.5 842.5 L942.5 843.6 L944.5 844.6 L946.5 845.7 L948.5 846.8 L950.5 847.8 L952.5 848.8 L954.5 849.7 L956.5 850.6 L958.5 851.6 L960.5 852.5 L962.5 853.4 L964.5 854.3 L966.5 855.2 L968.5 856.1 L970.5 857.0 L972.5 857.9 L974.5 858.8 L976.5 859.7 L978.5 860.6 L980.5 861.5 L982.5 862.4 L984.5 863.3 L986.5 864.1 L988.5 865.0 L990.5 865.8 L992.5 866.7 L994.5 867.5 L996.5 868.3 L998.5 869.1 L1000.5 869.9 L1002.5 870.7 L1004.5 871.5 L1006.5 872.3 L1008.5 873.1 L1010.5 873.9 L1012.5 874.7 L1014.5 875.5 L1016.5 876.2 L1018.5 877.0 L1020.5 877.7 L1022.5 878.5 L1024.5 879.2 L1026.5 879.9 L1028.5 880.7 L1030.5 881.4 L1032.5 882.1 L1034.5 882.8 L1036.5 883.5 L1038.5 884.2 L1040.5 884.9 L1042.5 885.6 L1044.5 886.3 L1046.5 887.0 L1048.5 887.6 L1050.5 888.3 L1052.5 889.0 L1054.5 889.6 L1056.5 890.3 L1058.5 890.9 L1060.5 891.5 L1062.5 892.2 L1064.5 892.8 L1066.5 893.4 L1068.5 894.1 L1070.5 894.7 L1072.5 895.3 L1074.5 895.9 L1076.5 896.5 L1078.5 897.1 L1080.5 897.7 L1082.5 898.3 L1084.5 898.9 L1086.5 899.4 L1088.5 900.0 L1090.5 900.6 L1092.5 901.1 L1094.5 901.7 L1096.5 902.3 L1098.5 902.8 L1100.5 903.4 L1102.5 903.9 L1104.5 904.5 L1106.5 905.0 L1108.5 905.6 L1110.5 906.1 L1112.5 906.7 L1114.5 907.2 L1116.5 907.7 L1118.5 908.3 L1120.5 908.8 L1122.5 909.3 L1124.5 909.8 L1126.5 910.4 L1128.5 910.9 L1130.5 911.4 L1132.5 911.9 L1134.5 912.4 L1136.5 912.9 L1138.5 913.5 L1140.5 914.0 L1142.5 914.5 L1144.5 915.0 L1146.5 915.5 L1148.5 916.0 L1150.5 916.5 L1152.5 916.9 L1154.5 917.4 L1156.5 917.9 L1158.5 918.4 L1160.5 918.9 L1162.5 919.4 L1164.5 919.9 L1166.5 920.3 L1168.5 920.8 L1170.5 921.3 L1172.5 921.7 L1174.5 922.2 L1176.5 922.7 L1178.5 923.1 L1180.5 923.6 L1182.5 924.0 L1184.5 924.5 L1186.5 924.9 L1188.5 925.4 L1190.5 925.8 L1192.5 926.2 L1194.5 926.7 L1196.5 927.1 L1198.5 927.5 L1200.5 928.0 L1202.5 928.4 L1204.5 928.8 L1206.5 929.2 L1208.5 929.7 L1210.5 930.1 L1212.5 930.5 L1214.5 930.9 L1216.5 931.3 L1218.5 931.7 L1220.5 932.1 L1222.5 932.5 L1224.5 932.9 L1226.5 933.3 L1228.5 933.7 L1230.5 934.1 L1232.5 934.5 L1234.5 934.9 L1236.5 935.3 L1238.5 935.7 L1240.5 936.0 L1242.5 936.4 L1244.5 936.8 L1246.5 937.2 L1248.5 937.5 L1250.5 937.9 L1252.5 938.3 L1254.5 938.7 L1256.5 939.0 L1258.5 939.4 L1260.5 939.7 L1262.5 940.1 L1264.5 940.4 L1266.5 940.8 L1268.5 941.1 L1270.5 941.5 L1272.5 941.8 L1274.5 942.2 L1276.5 942.5 L1278.5 942.8 L1280.5 943.2 L1282.5 943.5 L1284.5 943.8 L1286.5 944.2 L1288.5 944.5 L1290.5 944.8 L1292.5 945.1 L1294.5 945.5 L1296.5 945.8 L1298.5 946.1 L1300.5 946.4 L1302.5 946.8 L1304.5 947.1 L1306.5 947.4 L1308.5 947.7 L1310.5 948.0 L1312.5 948.4 L1314.5 948.7 L1316.5 949.0 L1318.5 949.3 L1320.5 949.6 L1322.5 949.9 L1324.5 950.2 L1326.5 950.5 L1328.5 950.8 L1330.5 951.1 L1332.5 951.4 L1334.5 951.7 L1336.5 952.0 L1338.5 952.3 L1340.5 952.6 L1342.5 952.9 L1344.5 953.2 L1346.5 953.5 L1348.5 953.8 L1350.5 954.1 L1352.5 954.4 L1354.5 954.7 L1356.5 955.0 L1358.5 955.3 L1360.5 955.6 L1362.5 955.8 L1364.5 956.1 L1366.5 956.4 L1368.5 956.7 L1370.5 957.0 L1372.5 957.2 L1374.5 957.5 L1376.5 957.8 L1378.5 958.1 L1380.5 958.4 L1382.5 958.6 L1384.5 958.9 L1386.5 959.2 L1388.5 959.5 L1390.5 959.7 L1392.5 960.0 L1394.5 960.3 L1396.5 960.6 L1398.5 960.9 L1400.5 961.1 L1402.5 961.4 L1404.5 961.7 L1406.5 962.0 L1408.5 962.2 L1410.5 962.5 L1412.5 962.8 L1414.5 963.1 L1416.5 963.3 L1418.5 963.6 L1420.5 963.9 L1422.5 964.2 L1424.5 964.5 L1426.5 964.7 L1428.5 965.0 L1430.5 965.3 L1432.5 965.6 L1434.5 965.8 L1436.5 966.1 L1438.5 966.4 L1440.5 966.7 L1442.5 966.9 L1444.5 967.2 L1446.5 967.5 L1448.5 967.8 L1450.5 968.0 L1452.5 968.3 L1454.5 968.6 L1456.5 968.8 L1458.5 969.1 L1460.5 969.4 L1462.5 969.6 L1464.5 969.9 L1466.5 970.2 L1468.5 970.4 L1470.5 970.7 L1472.5 971.0 L1474.5 971.2 L1476.5 971.5 L1478.5 971.7 L1480.5 972.0 L1482.5 972.2 L1484.5 972.5 L1486.5 972.7 L1488.5 973.0 L1490.5 973.3 L1492.5 973.5 L1494.5 973.8 L1496.5 974.0 L1498.5 974.3 L1500.5 974.5 L1502.5 974.7 L1504.5 975.0 L1506.5 975.2 L1508.5 975.5 L1510.5 975.7 L1512.5 976.0 L1514.5 976.2 L1516.5 976.4 L1518.5 976.7 L1520.5 976.9 L1522.5 977.1 L1524.5 977.4 L1526.5 977.6 L1528.5 977.8 L1530.5 978.1 L1532.5 978.3 L1534.5 978.5 L1536.5 978.7 L1538.5 979.0 L1540.5 979.2 L1542.5 979.4 L1544.5 979.6 L1546.5 979.8 L1548.5 980.1 L1550.5 980.3 L1552.5 980.5 L1554.5 980.7 L1556.5 980.9 L1558.5 981.1 L1560.5 981.3 L1562.5 981.5 L1564.5 981.7 L1566.5 981.9 L1568.5 982.1 L1570.5 982.3 L1572.5 982.5 L1574.5 982.7 L1576.5 982.9 L1578.5 983.1 L1580.5 983.3 L1582.5 983.5 L1584.5 983.7 L1586.5 983.9 L1588.5 984.1 L1590.5 984.3 L1592.5 984.5 L1594.5 984.6 L1596.5 984.8 L1598.5 985.0 L1600.5 985.2 L1602.5 985.4 L1604.5 985.5 L1606.5 985.7 L1608.5 985.9 L1610.5 986.1 L1612.5 986.2 L1614.5 986.4 L1616.5 986.6 L1618.5 986.7 L1620.5 986.9 L1622.5 987.1 L1624.5 987.2 L1626.5 987.4 L1628.5 987.6 L1630.5 987.7 L1632.5 987.9 L1634.5 988.1 L1636.5 988.2 L1638.5 988.4 L1640.5 988.5 L1642.5 988.7 L1644.5 988.9 L1646.5 989.0 L1648.5 989.2 L1650.5 989.3 L1652.5 989.5 L1654.5 989.6 L1656.5 989.8 L1658.5 989.9 L1660.5 990.1 L1662.5 990.2 L1664.5 990.4 L1666.5 990.5 L1668.5 990.7 L1670.5 990.9 L1672.5 991.0 L1674.5 991.2 L1676.5 991.3 L1678.5 991.5 L1680.5 991.6 L1682.5 991.8 L1684.5 991.9 L1686.5 992.1 L1688.5 992.2 L1690.5 992.4 L1692.5 992.5 L1694.5 992.7 L1696.5 992.8 L1698.5 993.0 L1700.5 993.1 L1702.5 993.3 L1704.5 993.5 L1706.5 993.6 L1708.5 993.8 L1710.5 993.9 L1712.5 994.1 L1714.5 994.3 L1716.5 994.4 L1718.5 994.6 L1720.5 994.7 L1722.5 994.9 L1724.5 995.1 L1726.5 995.2 L1728.5 995.4 L1730.5 995.6 L1732.5 995.7 L1734.5 995.9 L1736.5 996.0 L1738.5 996.2 L1740.5 996.4 L1742.5 996.5 L1744.5 996.7 L1746.5 996.8 L1748.5 997.0 L1750.5 997.1 L1752.5 997.3 L1754.5 997.4 L1756.5 997.6 L1758.5 997.7 L1760.5 997.9 L1762.5 998.0 L1764.5 998.2 L1766.5 998.3 L1768.5 998.5 L1770.5 998.6 L1772.5 998.7 L1774.5 998.9 L1776.5 999.0 L1778.5 999.2 L1780.5 999.3 L1782.5 999.4 L1784.5 999.6 L1786.5 999.7 L1788.5 999.8 L1790.5 999.9 L1792.5 1000.1"/>
<path stroke="#ff8000" d="M218.5 839.9 L220.5 836.4 L222.5 832.8 L224.5 829.1 L226.5 825.5 L228.5 821.7 L230.5 817.9 L232.5 813.9 L234.5 809.7 L236.5 805.9 L238.5 802.5 L240.5 799.3 L242.5 796.3 L244.5 793.4 L246.5 790.5 L248.5 787.8 L250.5 785.2 L252.5 782.6 L254.5 780.1 L256.5 777.6 L258.5 775.1 L260.5 772.5 L262.5 769.8 L264.5 766.9 L266.5 763.9 L268.5 760.8 L270.5 757.7 L272.5 754.5 L274.5 751.2 L276.5 747.9 L278.5 744.5 L280.5 740.9 L282.5 737.2 L284.5 733.3 L286.5 729.2 L288.5 725.0 L290.5 720.6 L292.5 716.2 L294.5 711.7 L296.5 707.0 L298.5 702.1 L300.5 697.1 L302.5 692.0 L304.5 686.7 L306.5 681.3 L308.5 675.8 L310.5 670.2 L312.5 664.6 L314.5 658.9 L316.5 653.2 L318.5 647.4 L320.5 641.6 L322.5 635.7 L324.5 629.9 L326.5 624.0 L328.5 618.2 L330.5 612.3 L332.5 606.5 L334.5 600.7 L336.5 594.9 L338.5 589.2 L340.5 583.6 L342.5 577.9 L344.5 572.4 L346.5 566.8 L348.5 561.3 L350.5 555.9 L352.5 550.5 L354.5 545.2 L356.5 539.9 L358.5 534.5 L360.5 529.1 L362.5 523.7 L364.5 518.4 L366.5 513.0 L368.5 507.6 L370.5 502.3 L372.5 496.9 L374.5 491.5 L376.5 486.2 L378.5 480.9 L380.5 475.6 L382.5 470.1 L384.5 464.5 L386.5 458.8 L388.5 453.0 L390.5 447.2 L392.5 441.4 L394.5 435.5 L396.5 429.6 L398.5 423.7 L400.5 417.8 L402.5 411.8 L404.5 405.9 L406.5 400.0 L408.5 394.1 L410.5 388.2 L412.5 382.5 L414.5 376.7 L416.5 371.1 L418.5 365.5 L420.5 360.0 L422.5 354.6 L424.5 349.3 L426.5 344.0 L428.5 338.9 L430.5 334.0 L432.5 329.1 L434.5 324.4 L436.5 319.8 L438.5 314.9 L440.5 309.3 L442.5 306.0 L444.5 303.0 L446.5 299.6 L448.5 295.9 L450.5 292.1 L452.5 288.3 L454.5 285.0 L456.5 281.9 L458.5 278.7 L460.5 275.6 L462.5 272.5 L464.5 269.5 L466.5 267.7 L468.5 266.0 L470.5 264.2 L472.5 261.5 L474.5 258.6 L476.5 255.7 L478.5 253.3 L480.5 252.4 L482.5 251.5 L484.5 250.6 L486.5 249.6 L488.5 248.6 L490.5 249.8 L492.5 251.0 L494.5 252.3 L496.5 251.8 L498.5 250.6 L500.5 250.2 L502.5 250.2 L504.5 243.2 L506.5 238.6 L508.5 241.6 L510.5 240.1 L512.5 237.7 L514.5 238.8 L516.5 240.8 L518.5 243.2 L520.5 245.3 L522.5 245.1 L524.5 244.8 L526.5 244.6 L528.5 246.4 L530.5 248.4 L532.5 252.6 L534.5 256.2 L536.5 257.5 L538.5 258.7 L540.5 260.0 L542.5 264.5 L544.5 268.1 L546.5 270.4 L548.5 272.6 L550.5 274.8 L552.5 277.6 L554.5 280.4 L556.5 283.4 L558.5 286.4 L560.5 289.5 L562.5 292.7 L564.5 296.0 L566.5 299.5 L568.5 303.0 L570.5 306.4 L572.5 309.9 L574.5 313.3 L576.5 316.8 L578.5 320.5 L580.5 324.3 L582.5 328.1 L584.5 331.9 L586.5 335.7 L588.5 339.6 L590.5 343.6 L592.5 347.6 L594.5 351.7 L596.5 355.7 L598.5 359.8 L600.5 363.9 L602.5 368.0 L604.5 372.2 L606.5 376.4 L608.5 380.6 L610.5 384.9 L612.5 389.1 L614.5 393.4 L616.5 397.7 L618.5 402.0 L620.5 406.3 L622.5 410.6 L624.5 414.8 L626.5 419.1 L628.5 423.4 L630.5 427.6 L632.5 431.9 L634.5 436.1 L636.5 440.4 L638.5 444.6 L640.5 448.9 L642.5 453.2 L644.5 457.5 L646.5 461.8 L648.5 466.2 L650.5 470.5 L652.5 474.9 L654.5 479.2 L656.5 483.6 L658.5 488.0 L660.5 492.4 L662.5 496.8 L664.5 501.3 L666.5 505.8 L668.5 510.3 L670.5 514.7 L672.5 519.2 L674.5 523.6 L676.5 527.9 L678.5 532.3 L680.5 536.6 L682.5 540.9 L684.5 545.1 L686.5 549.4 L688.5 553.6 L690.5 557.8 L692.5 561.9 L694.5 566.1 L696.5 570.1 L698.5 574.2 L700.5 578.1 L702.5 582.1 L704.5 586.0 L706.5 589.8 L708.5 593.6 L710.5 597.4 L712.5 601.1 L714.5 604.7 L716.5 608.3 L718.5 611.7 L720.5 615.1 L722.5 618.4 L724.5 621.7 L726.5 625.0 L728.5 628.2 L730.5 631.4 L732.5 634.6 L734.5 637.7 L736.5 640.8 L738.5 643.9 L740.5 646.9 L742.5 649.9 L744.5 652.9 L746.5 655.9 L748.5 658.8 L750.5 661.7 L752.5 664.6 L754.5 667.5 L756.5 670.3 L758.5 673.1 L760.5 676.0 L762.5 678.8 L764.5 681.5 L766.5 684.2 L768.5 686.9 L770.5 689.5 L772.5 692.1 L774.5 694.6 L776.5 697.1 L778.5 699.6 L780.5 702.0 L782.5 704.4 L784.5 706.7 L786.5 709.0 L788.5 711.3 L790.5 713.6 L792.5 715.9 L794.5 718.1 L796.5 720.3 L798.5 722.5 L800.5 724.6 L802.5 726.8 L804.5 728.9 L806.5 731.0 L808.5 733.1 L810.5 735.1 L812.5 737.2 L814.5 739.2 L816.5 741.3 L818.5 743.3 L820.5 745.3 L822.5 747.2 L824.5 749.1 L826.5 751.1 L828.5 752.9 L830.5 754.8 L832.5 756.7 L834.5 758.5 L836.5 760.4 L838.5 762.2 L840.5 764.0 L842.5 765.8 L844.5 767.5 L846.5 769.3 L848.5 771.0 L850.5 772.6 L852.5 774.3 L854.5 775.9 L856.5 777.5 L858.5 779.0 L860.5 780.6 L862.5 782.1 L864.5 783.6 L866.5 785.1 L868.5 786.6 L870.5 788.0 L872.5 789.4 L874.5 790.9 L876.5 792.3 L878.5 793.7 L880.5 795.0 L882.5 796.4 L884.5 797.7 L886.5 799.1 L888.5 800.4 L890.5 801.7 L892.5 803.0 L894.5 804.2 L896.5 805.5 L898.5 806.8 L900.5 808.0 L902.5 809.2 L904.5 810.4 L906.5 811.6 L908.5 812.8 L910.5 813.9 L912.5 815.1 L914.5 816.2 L916.5 817.4 L918.5 818.5 L920.5 819.6 L922.5 820.7 L924.5 821.8 L926.5 822.8 L928.5 823.9 L930.5 825.0 L932.5 826.0 L934.5 827.0 L936.5 828.1 L938.5 829.1 L940.5 830.1 L942.5 831.1 L944.5 832.1 L946.5 833.1 L948.5 834.0 L950.5 835.0 L952.5 835.9 L954.5 836.9 L956.5 837.8 L958.5 838.7 L960.5 839.5 L962.5 840.4 L964.5 841.2 L966.5 842.1 L968.5 842.9 L970.5 843.8 L972.5 844.6 L974.5 845.4 L976.5 846.2 L978.5 847.0 L980.5 847.8 L982.5 848.6 L984.5 849.4 L986.5 850.2 L988.5 851.0 L990.5 851.8 L992.5 852.6 L994.5 853.3 L996.5 854.1 L998.5 854.9 L1000.5 855.6 L1002.5 856.4 L1004.5 857.1 L1006.5 857.9 L1008.5 858.6 L1010.5 859.4 L1012.5 860.1 L1014.5 860.8 L1016.5 861.5 L1018.5 862.2 L1020.5 862.9 L1022.5 863.6 L1024.5 864.3 L1026.5 865.0 L1028.5 865.7 L1030.5 866.4 L1032.5 867.0 L1034.5 867.7 L1036.5 868.4 L1038.5 869.1 L1040.5 869.7 L1042.5 870.4 L1044.5 871.1 L1046.5 871.7 L1048.5 872.4 L1050.5 873.1 L1052.5 873.7 L1054.5 874.4 L1056.5 875.0 L1058.5 875.6 L1060.5 876.3 L1062.5 876.9 L1064.5 877.6 L1066.5 878.2 L1068.5 878.8 L1070.5 879.4 L1072.5 880.1 L1074.5 880.7 L1076.5 881.3 L1078.5 881.9 L1080.5 882.5 L1082.5 883.2 L1084.5 883.8 L1086.5 884.4 L1088.5 885.0 L1090.5 885.6 L1092.5 886.2 L1094.5 886.8 L1096.5 887.4 L1098.5 887.9 L1100.5 888.5 L1102.5 889.1 L1104.5 889.7 L1106.5 890.3 L1108.5 890.9 L1110.5 891.4 L1112.5 892.0 L1114.5 892.6 L1116.5 893.1 L1118.5 893.7 L1120.5 894.3 L1122.5 894.8 L1124.5 895.4 L1126.5 896.0 L1128.5 896.5 L1130.5 897.1 L1132.5 897.6 L1134.5 898.2 L1136.5 898.8 L1138.5 899.3 L1140.5 899.9 L1142.5 900.4 L1144.5 901.0 L1146.5 901.5 L1148.5 902.1 L1150.5 902.6 L1152.5 903.2 L1154.5 903.7 L1156.5 904.2 L1158.5 904.8 L1160.5 905.3 L1162.5 905.8 L1164.5 906.4 L1166.5 906.9 L1168.5 907.4 L1170.5 907.9 L1172.5 908.5 L1174.5 909.0 L1176.5 909.5 L1178.5 910.0 L1180.5 910.5 L1182.5 911.0 L1184.5 911.5 L1186.5 912.0 L1188.5 912.5 L1190.5 913.0 L1192.5 913.5 L1194.5 914.0 L1196.5 914.5 L1198.5 915.0 L1200.5 915.5 L1202.5 916.0 L1204.5 916.5 L1206.5 917.0 L1208.5 917.5 L1210.5 917.9 L1212.5 918.4 L1214.5 918.9 L1216.5 919.4 L1218.5 919.8 L1220.5 920.3 L1222.5 920.8 L1224.5 921.2 L1226.5 921.7 L1228.5 922.2 L1230.5 922.6 L1232.5 923.1 L1234.5 923.5 L1236.5 924.0 L1238.5 924.4 L1240.5 924.9 L1242.5 925.3 L1244.5 925.7 L1246.5 926.2 L1248.5 926.6 L1250.5 927.1 L1252.5 927.5 L1254.5 927.9 L1256.5 928.4 L1258.5 928.8 L1260.5 929.2 L1262.5 929.6 L1264.5 930.1 L1266.5 930.5 L1268.5 930.9 L1270.5 931.3 L1272.5 931.7 L1274.5 932.1 L1276.5 932.5 L1278.5 932.9 L1280.5 933.4 L1282.5 933.8 L1284.5 934.2 L1286.5 934.6 L1288.5 935.0 L1290.5 935.4 L1292.5 935.8 L1294.5 936.2 L1296.5 936.5 L1298.5 936.9 L1300.5 937.3 L1302.5 937.7 L1304.5 938.1 L1306.5 938.5 L1308.5 938.9 L1310.5 939.3 L1312.5 939.7 L1314.5 940.1 L1316.5 940.4 L1318.5 940.8 L1320.5 941.2 L1322.5 941.6 L1324.5 942.0 L1326.5 942.3 L1328.5 942.7 L1330.5 943.1 L1332.5 943.5 L1334.5 943.8 L1336.5 944.2 L1338.5 944.6 L1340.5 945.0 L1342.5 945.3 L1344.5 945.7 L1346.5 946.0 L1348.5 946.4 L1350.5 946.8 L1352.5 947.1 L1354.5 947.5 L1356.5 947.8 L1358.5 948.2 L1360.5 948.5 L1362.5 948.9 L1364.5 949.2 L1366.5 949.6 L1368.5 949.9 L1370.5 950.2 L1372.5 950.6 L1374.5 950.9 L1376.5 951.2 L1378.5 951.6 L1380.5 951.9 L1382.5 952.2 L1384.5 952.6 L1386.5 952.9 L1388.5 953.2 L1390.5 953.6 L1392.5 953.9 L1394.5 954.2 L1396.5 954.6 L1398.5 954.9 L1400.5 955.2 L1402.5 955.6 L1404.5 955.9 L1406.5 956.2 L1408.5 956.6 L1410.5 956.9 L1412.5 957.2 L1414.5 957.6 L1416.5 957.9 L1418.5 958.2 L1420.5 958.6 L1422.5 958.9 L1424.5 959.2 L1426.5 959.6 L1428.5 959.9 L1430.5 960.2 L1432.5 960.6 L1434.5 960.9 L1436.5 961.2 L1438.5 961.6 L1440.5 961.9 L1442.5 962.2 L1444.5 962.5 L1446.5 962.9 L1448.5 963.2 L1450.5 963.5 L1452.5 963.8 L1454.5 964.2 L1456.5 964.5 L1458.5 964.8 L1460.5 965.1 L1462.5 965.4 L1464.5 965.8 L1466.5 966.1 L1468.5 966.4 L1470.5 966.7 L1472.5 967.0 L1474.5 967.3 L1476.5 967.6 L1478.5 967.9 L1480.5 968.2 L1482.5 968.6 L1484.5 968.9 L1486.5 969.2 L1488.5 969.5 L1490.5 969.8 L1492.5 970.1 L1494.5 970.4 L1496.5 970.7 L1498.5 971.0 L1500.5 971.3 L1502.5 971.6 L1504.5 971.9 L1506.5 972.2 L1508.5 972.4 L1510.5 972.7 L1512.5 973.0 L1514.5 973.3 L1516.5 973.6 L1518.5 973.9 L1520.5 974.2 L1522.5 974.4 L1524.5 974.7 L1526.5 975.0 L1528.5 975.3 L1530.5 975.6 L1532.5 975.8 L1534.5 976.1 L1536.5 976.4 L1538.5 976.6 L1540.5 976.9 L1542.5 977.2 L1544.5 977.4 L1546.5 977.7 L1548.5 978.0 L1550.5 978.2 L1552.5 978.5 L1554.5 978.7 L1556.5 979.0 L1558.5 979.2 L1560.5 979.5 L1562.5 979.7 L1564.5 980.0 L1566.5 980.2 L1568.5 980.5 L1570.5 980.7 L1572.5 980.9 L1574.5 981.2 L1576.5 981.4 L1578.5 981.6 L1580.5 981.9 L1582.5 982.1 L1584.5 982.3 L1586.5 982.6 L1588.5 982.8 L1590.5 983.0 L1592.5 983.2 L1594.5 983.5 L1596.5 983.7 L1598.5 983.9 L1600.5 984.1 L1602.5 984.3 L1604.5 984.5 L1606.5 984.7 L1608.5 985.0 L1610.5 985.2 L1612.5 985.4 L1614.5 985.6 L1616.5 985.8 L1618.5 985.9 L1620.5 986.1 L1622.5 986.3 L1624.5 986.5 L1626.5 986.7 L1628.5 986.9 L1630.5 987.1 L1632.5 987.3 L1634.5 987.4 L1636.5 987.6 L1638.5 987.8 L1640.5 988.0 L1642.5 988.1 L1644.5 988.3 L1646.5 988.5 L1648.5 988.6 L1650.5 988.8 L1652.5 989.0 L1654.5 989.1 L1656.5 989.3 L1658.5 989.4 L1660.5 989.6 L1662.5 989.8 L1664.5 989.9 L1666.5 990.1 L1668.5 990.3 L1670.5 990.4 L1672.5 990.6 L1674.5 990.7 L1676.5 990.9 L1678.5 991.0 L1680.5 991.2 L1682.5 991.4 L1684.5 991.5 L1686.5 991.7 L1688.5 991.8 L1690.5 992.0 L1692.5 992.1 L1694.5 992.3 L1696.5 992.5 L1698.5 992.6 L1700.5 992.8 L1702.5 992.9 L1704.5 993.1 L1706.5 993.3 L1708.5 993.4 L1710.5 993.6 L1712.5 993.7 L1714.5 993.9 L1716.5 994.1 L1718.5 994.2 L1720.5 994.4 L1722.5 994.6 L1724.5 994.7 L1726.5 994.9 L1728.5 995.0 L1730.5 995.2 L1732.5 995.3 L1734.5 995.5 L1736.5 995.7 L1738.5 995.8 L1740.5 996.0 L1742.5 996.1 L1744.5 996.3 L1746.5 996.4 L1748.5 996.6 L1750.5 996.7 L1752.5 996.9 L1754.5 997.0 L1756.5 997.2 L1758.5 997.3 L1760.5 997.5 L1762.5 997.6 L1764.5 997.7 L1766.5 997.9 L1768.5 998.0 L1770.5 998.2 L1772.5 998.3 L1774.5 998.4 L1776.5 998.6 L1778.5 998.7 L1780.5 998.8 L1782.5 999.0 L1784.5 999.1 L1786.5 999.2 L1788.5 999.3 L1790.5 999.5 L1792.5 999.6"/>
<path stroke="#ff00ff" d="M218.5 854.3 L220.5 851.2 L222.5 848.0 L224.5 844.7 L226.5 841.4 L228.5 838.0 L230.5 834.6 L232.5 830.9 L234.5 827.1 L236.5 823.7 L238.5 820.7 L240.5 817.9 L242.5 815.3 L244.5 812.7 L246.5 810.1 L248.5 807.6 L250.5 805.0 L252.5 802.3 L254.5 799.7 L256.5 797.0 L258.5 794.4 L260.5 791.9 L262.5 788.9 L264.5 785.9 L266.5 783.3 L268.5 780.7 L270.5 777.8 L272.5 774.7 L274.5 771.8 L276.5 768.8 L278.5 765.7 L280.5 762.5 L282.5 759.3 L284.5 755.9 L286.5 752.4 L288.5 748.9 L290.5 745.3 L292.5 741.7 L294.5 738.1 L296.5 734.5 L298.5 730.8 L300.5 727.0 L302.5 723.2 L304.5 719.3 L306.5 715.4 L308.5 711.5 L310.5 707.4 L312.5 703.3 L314.5 699.3 L316.5 695.2 L318.5 691.1 L320.5 686.9 L322.5 682.7 L324.5 678.4 L326.5 674.1 L328.5 669.8 L330.5 665.4 L332.5 661.0 L334.5 656.5 L336.5 652.1 L338.5 647.7 L340.5 643.2 L342.5 638.7 L344.5 634.2 L346.5 629.6 L348.5 624.9 L350.5 620.3 L352.5 615.6 L354.5 610.9 L356.5 606.2 L358.5 601.5 L360.5 596.8 L362.5 592.1 L364.5 587.4 L366.5 582.8 L368.5 578.1 L370.5 573.4 L372.5 568.8 L374.5 564.3 L376.5 559.8 L378.5 555.4 L380.5 551.0 L382.5 546.6 L384.5 542.2 L386.5 537.9 L388.5 533.6 L390.5 529.3 L392.5 525.1 L394.5 520.9 L396.5 516.7 L398.5 512.5 L400.5 508.4 L402.5 504.2 L404.5 500.2 L406.5 496.1 L408.5 492.1 L410.5 488.2 L412.5 484.2 L414.5 480.3 L416.5 476.5 L418.5 472.7 L420.5 469.0 L422.5 465.4 L424.5 461.9 L426.5 458.4 L428.5 454.9 L430.5 451.6 L432.5 448.2 L434.5 445.0 L436.5 441.8 L438.5 438.6 L440.5 435.6 L442.5 432.6 L444.5 429.8 L446.5 427.0 L448.5 424.2 L450.5 421.6 L452.5 419.0 L454.5 416.6 L456.5 414.2 L458.5 411.9 L460.5 409.9 L462.5 407.9 L464.5 406.0 L466.5 404.3 L468.5 402.6 L470.5 400.9 L472.5 399.4 L474.5 398.0 L476.5 396.6 L478.5 395.3 L480.5 394.1 L482.5 393.0 L484.5 391.9 L486.5 391.0 L488.5 390.1 L490.5 389.3 L492.5 388.6 L494.5 388.1 L496.5 388.2 L498.5 388.7 L500.5 389.6 L502.5 389.0 L504.5 387.4 L506.5 386.0 L508.5 386.2 L510.5 386.4 L512.5 386.6 L514.5 386.9 L516.5 387.5 L518.5 388.3 L520.5 389.1 L522.5 389.8 L524.5 390.6 L526.5 391.4 L528.5 392.2 L530.5 393.2 L532.5 394.2 L534.5 395.3 L536.5 396.4 L538.5 397.7 L540.5 399.1 L542.5 400.6 L544.5 402.2 L546.5 403.9 L548.5 405.7 L550.5 407.5 L552.5 409.3 L554.5 411.2 L556.5 413.2 L558.5 415.2 L560.5 417.3 L562.5 419.4 L564.5 421.6 L566.5 423.9 L568.5 426.2 L570.5 428.6 L572.5 431.0 L574.5 433.5 L576.5 435.9 L578.5 438.4 L580.5 440.9 L582.5 443.5 L584.5 446.2 L586.5 448.9 L588.5 451.6 L590.5 454.4 L592.5 457.3 L594.5 460.2 L596.5 463.1 L598.5 466.0 L600.5 469.0 L602.5 472.0 L604.5 475.0 L606.5 478.0 L608.5 481.1 L610.5 484.2 L612.5 487.2 L614.5 490.3 L616.5 493.3 L618.5 496.4 L620.5 499.5 L622.5 502.5 L624.5 505.6 L626.5 508.7 L628.5 511.8 L630.5 514.9 L632.5 518.0 L634.5 521.1 L636.5 524.2 L638.5 527.3 L640.5 530.4 L642.5 533.5 L644.5 536.5 L646.5 539.6 L648.5 542.7 L650.5 545.7 L652.5 548.7 L654.5 551.7 L656.5 554.7 L658.5 557.6 L660.5 560.5 L662.5 563.4 L664.5 566.4 L666.5 569.3 L668.5 572.3 L670.5 575.3 L672.5 578.3 L674.5 581.3 L676.5 584.2 L678.5 587.2 L680.5 590.1 L682.5 593.0 L684.5 595.9 L686.5 598.9 L688.5 601.8 L690.5 604.7 L692.5 607.6 L694.5 610.5 L696.5 613.3 L698.5 616.1 L700.5 619.0 L702.5 621.7 L704.5 624.5 L706.5 627.3 L708.5 630.0 L710.5 632.7 L712.5 635.4 L714.5 638.1 L716.5 640.7 L718.5 643.3 L720.5 645.9 L722.5 648.4 L724.5 650.9 L726.5 653.4 L728.5 655.9 L730.5 658.3 L732.5 660.6 L734.5 663.0 L736.5 665.3 L738.5 667.6 L740.5 669.9 L742.5 672.2 L744.5 674.5 L746.5 676.9 L748.5 679.2 L750.5 681.5 L752.5 683.8 L754.5 686.1 L756.5 688.3 L758.5 690.5 L760.5 692.6 L762.5 694.8 L764.5 696.9 L766.5 698.9 L768.5 700.9 L770.5 702.9 L772.5 704.9 L774.5 706.9 L776.5 708.9 L778.5 710.8 L780.5 712.7 L782.5 714.5 L784.5 716.4 L786.5 718.2 L788.5 720.0 L790.5 721.7 L792.5 723.5 L794.5 725.2 L796.5 726.8 L798.5 728.5 L800.5 730.1 L802.5 731.7 L804.5 733.2 L806.5 734.8 L808.5 736.3 L810.5 737.8 L812.5 739.3 L814.5 740.8 L816.5 742.3 L818.5 743.7 L820.5 745.2 L822.5 746.6 L824.5 748.0 L826.5 749.4 L828.5 750.8 L830.5 752.3 L832.5 753.7 L834.5 755.0 L836.5 756.4 L838.5 757.7 L840.5 759.0 L842.5 760.3 L844.5 761.6 L846.5 762.8 L848.5 764.0 L850.5 765.2 L852.5 766.4 L854.5 767.6 L856.5 768.8 L858.5 770.0 L860.5 771.1 L862.5 772.3 L864.5 773.4 L866.5 774.5 L868.5 775.6 L870.5 776.7 L872.5 777.7 L874.5 778.8 L876.5 779.8 L878.5 780.9 L880.5 781.9 L882.5 782.9 L884.5 783.9 L886.5 784.8 L888.5 785.8 L890.5 786.8 L892.5 787.7 L894.5 788.6 L896.5 789.5 L898.5 790.4 L900.5 791.3 L902.5 792.1 L904.5 793.0 L906.5 793.8 L908.5 794.7 L910.5 795.5 L912.5 796.3 L914.5 797.1 L916.5 797.8 L918.5 798.6 L920.5 799.4 L922.5 800.1 L924.5 800.9 L926.5 801.6 L928.5 802.4 L930.5 803.1 L932.5 803.8 L934.5 804.6 L936.5 805.3 L938.5 806.0 L940.5 806.7 L942.5 807.4 L944.5 808.1 L946.5 808.7 L948.5 809.3 L950.5 810.0 L952.5 810.6 L954.5 811.2 L956.5 811.8 L958.5 812.4 L960.5 813.0 L962.5 813.6 L964.5 814.2 L966.5 814.8 L968.5 815.4 L970.5 816.0 L972.5 816.5 L974.5 817.1 L976.5 817.7 L978.5 818.2 L980.5 818.7 L982.5 819.3 L984.5 819.8 L986.5 820.3 L988.5 820.9 L990.5 821.4 L992.5 821.9 L994.5 822.4 L996.5 822.9 L998.5 823.4 L1000.5 823.9 L1002.5 824.4 L1004.5 824.9 L1006.5 825.4 L1008.5 825.8 L1010.5 826.3 L1012.5 826.8 L1014.5 827.3 L1016.5 827.7 L1018.5 828.2 L1020.5 828.7 L1022.5 829.1 L1024.5 829.6 L1026.5 830.0 L1028.5 830.5 L1030.5 831.0 L1032.5 831.4 L1034.5 831.9 L1036.5 832.3 L1038.5 832.8 L1040.5 833.2 L1042.5 833.7 L1044.5 834.1 L1046.5 834.6 L1048.5 835.0 L1050.5 835.5 L1052.5 835.9 L1054.5 836.4 L1056.5 836.8 L1058.5 837.3 L1060.5 837.7 L1062.5 838.2 L1064.5 838.6 L1066.5 839.1 L1068.5 839.6 L1070.5 840.0 L1072.5 840.5 L1074.5 840.9 L1076.5 841.4 L1078.5 841.9 L1080.5 842.3 L1082.5 842.8 L1084.5 843.3 L1086.5 843.7 L1088.5 844.2 L1090.5 844.7 L1092.5 845.1 L1094.5 845.6 L1096.5 846.1 L1098.5 846.5 L1100.5 847.0 L1102.5 847.5 L1104.5 847.9 L1106.5 848.4 L1108.5 848.9 L1110.5 849.4 L1112.5 849.8 L1114.5 850.3 L1116.5 850.8 L1118.5 851.3 L1120.5 851.8 L1122.5 852.3 L1124.5 852.8 L1126.5 853.3 L1128.5 853.8 L1130.5 854.3 L1132.5 854.8 L1134.5 855.3 L1136.5 855.8 L1138.5 856.3 L1140.5 856.8 L1142.5 857.3 L1144.5 857.8 L1146.5 858.3 L1148.5 858.8 L1150.5 859.3 L1152.5 859.8 L1154.5 860.3 L1156.5 860.8 L1158.5 861.4 L1160.5 861.9 L1162.5 862.4 L1164.5 862.9 L1166.5 863.4 L1168.5 863.9 L1170.5 864.4 L1172.5 864.9 L1174.5 865.5 L1176.5 866.0 L1178.5 866.5 L1180.5 867.0 L1182.5 867.5 L1184.5 868.0 L1186.5 868.5 L1188.5 869.1 L1190.5 869.6 L1192.5 870.1 L1194.5 870.6 L1196.5 871.1 L1198.5 871.6 L1200.5 872.1 L1202.5 872.6 L1204.5 873.1 L1206.5 873.6 L1208.5 874.1 L1210.5 874.6 L1212.5 875.1 L1214.5 875.7 L1216.5 876.2 L1218.5 876.7 L1220.5 877.2 L1222.5 877.7 L1224.5 878.2 L1226.5 878.7 L1228.5 879.2 L1230.5 879.7 L1232.5 880.2 L1234.5 880.7 L1236.5 881.1 L1238.5 881.6 L1240.5 882.1 L1242.5 882.6 L1244.5 883.1 L1246.5 883.6 L1248.5 884.1 L1250.5 884.6 L1252.5 885.1 L1254.5 885.6 L1256.5 886.1 L1258.5 886.6 L1260.5 887.1 L1262.5 887.6 L1264.5 888.1 L1266.5 888.5 L1268.5 889.0 L1270.5 889.5 L1272.5 890.0 L1274.5 890.5 L1276.5 891.0 L1278.5 891.5 L1280.5 891.9 L1282.5 892.4 L1284.5 892.9 L1286.5 893.4 L1288.5 893.9 L1290.5 894.4 L1292.5 894.8 L1294.5 895.3 L1296.5 895.8 L1298.5 896.3 L1300.5 896.8 L1302.5 897.2 L1304.5 897.7 L1306.5 898.2 L1308.5 898.7 L1310.5 899.2 L1312.5 899.6 L1314.5 900.1 L1316.5 900.6 L1318.5 901.1 L1320.5 901.5 L1322.5 902.0 L1324.5 902.5 L1326.5 902.9 L1328.5 903.4 L1330.5 903.9 L1332.5 904.3 L1334.5 904.8 L1336.5 905.3 L1338.5 905.7 L1340.5 906.2 L1342.5 906.7 L1344.5 907.1 L1346.5 907.6 L1348.5 908.0 L1350.5 908.5 L1352.5 908.9 L1354.5 909.4 L1356.5 909.8 L1358.5 910.3 L1360.5 910.7 L1362.5 911.2 L1364.5 911.6 L1366.5 912.1 L1368.5 912.5 L1370.5 913.0 L1372.5 913.4 L1374.5 913.9 L1376.5 914.3 L1378.5 914.8 L1380.5 915.2 L1382.5 915.6 L1384.5 916.1 L1386.5 916.5 L1388.5 917.0 L1390.5 917.4 L1392.5 917.9 L1394.5 918.3 L1396.5 918.8 L1398.5 919.2 L1400.5 919.7 L1402.5 920.1 L1404.5 920.6 L1406.5 921.0 L1408.5 921.5 L1410.5 921.9 L1412.5 922.4 L1414.5 922.8 L1416.5 923.3 L1418.5 923.7 L1420.5 924.2 L1422.5 924.7 L1424.5 925.1 L1426.5 925.6 L1428.5 926.0 L1430.5 926.5 L1432.5 926.9 L1434.5 927.4 L1436.5 927.8 L1438.5 928.3 L1440.5 928.7 L1442.5 929.2 L1444.5 929.6 L1446.5 930.0 L1448.5 930.5 L1450.5 930.9 L1452.5 931.4 L1454.5 931.8 L1456.5 932.3 L1458.5 932.7 L1460.5 933.2 L1462.5 933.6 L1464.5 934.0 L1466.5 934.5 L1468.5 934.9 L1470.5 935.3 L1472.5 935.8 L1474.5 936.2 L1476.5 936.6 L1478.5 937.1 L1480.5 937.5 L1482.5 937.9 L1484.5 938.4 L1486.5 938.8 L1488.5 939.2 L1490.5 939.6 L1492.5 940.0 L1494.5 940.4 L1496.5 940.9 L1498.5 941.3 L1500.5 941.7 L1502.5 942.1 L1504.5 942.5 L1506.5 942.9 L1508.5 943.3 L1510.5 943.7 L1512.5 944.1 L1514.5 944.5 L1516.5 944.9 L1518.5 945.3 L1520.5 945.7 L1522.5 946.1 L1524.5 946.4 L1526.5 946.8 L1528.5 947.2 L1530.5 947.6 L1532.5 948.0 L1534.5 948.3 L1536.5 948.7 L1538.5 949.1 L1540.5 949.4 L1542.5 949.8 L1544.5 950.2 L1546.5 950.5 L1548.5 950.9 L1550.5 951.3 L1552.5 951.6 L1554.5 952.0 L1556.5 952.3 L1558.5 952.7 L1560.5 953.0 L1562.5 953.4 L1564.5 953.7 L1566.5 954.1 L1568.5 954.4 L1570.5 954.8 L1572.5 955.1 L1574.5 955.5 L1576.5 955.8 L1578.5 956.1 L1580.5 956.4 L1582.5 956.8 L1584.5 957.1 L1586.5 957.4 L1588.5 957.7 L1590.5 958.1 L1592.5 958.4 L1594.5 958.7 L1596.5 959.0 L1598.5 959.3 L1600.5 959.6 L1602.5 959.9 L1604.5 960.2 L1606.5 960.5 L1608.5 960.8 L1610.5 961.1 L1612.5 961.4 L1614.5 961.7 L1616.5 962.0 L1618.5 962.3 L1620.5 962.6 L1622.5 962.8 L1624.5 963.1 L1626.5 963.4 L1628.5 963.7 L1630.5 964.0 L1632.5 964.3 L1634.5 964.5 L1636.5 964.8 L1638.5 965.1 L1640.5 965.3 L1642.5 965.6 L1644.5 965.9 L1646.5 966.2 L1648.5 966.4 L1650.5 966.7 L1652.5 966.9 L1654.5 967.2 L1656.5 967.5 L1658.5 967.7 L1660.5 968.0 L1662.5 968.3 L1664.5 968.5 L1666.5 968.8 L1668.5 969.0 L1670.5 969.3 L1672.5 969.5 L1674.5 969.8 L1676.5 970.1 L1678.5 970.3 L1680.5 970.6 L1682.5 970.8 L1684.5 971.1 L1686.5 971.3 L1688.5 971.6 L1690.5 971.8 L1692.5 972.1 L1694.5 972.4 L1696.5 972.6 L1698.5 972.9 L1700.5 973.1 L1702.5 973.4 L1704.5 973.7 L1706.5 973.9 L1708.5 974.2 L1710.5 974.5 L1712.5 974.7 L1714.5 975.0 L1716.5 975.2 L1718.5 975.5 L1720.5 975.8 L1722.5 976.0 L1724.5 976.3 L1726.5 976.6 L1728.5 976.8 L1730.5 977.1 L1732.5 977.4 L1734.5 977.6 L1736.5 977.9 L1738.5 978.1 L1740.5 978.4 L1742.5 978.6 L1744.5 978.9 L1746.5 979.1 L1748.5 979.4 L1750.5 979.6 L1752.5 979.9 L1754.5 980.1 L1756.5 980.4 L1758.5 980.6 L1760.5 980.8 L1762.5 981.1 L1764.5 981.3 L1766.5 981.5 L1768.5 981.7 L1770.5 982.0 L1772.5 982.2 L1774.5 982.4 L1776.5 982.6 L1778.5 982.8 L1780.5 983.0 L1782.5 983.2 L1784.5 983.4 L1786.5 983.6 L1788.5 983.8 L1790.5 984.0 L1792.5 984.2"/>
</g>
<g stroke-width="6.4" stroke-linecap="round">
<line x1="1379" y1="114.80" x2="1514" y2="114.80" stroke="#000000"/>
<line x1="1379" y1="189.45" x2="1514" y2="189.45" stroke="#0000ff"/>
<line x1="1379" y1="264.10" x2="1514" y2="264.10" stroke="#ff0000"/>
<line x1="1379" y1="338.75" x2="1514" y2="338.75" stroke="#008000"/>
<line x1="1379" y1="413.40" x2="1514" y2="413.40" stroke="#ff8000"/>
<line x1="1379" y1="488.05" x2="1514" y2="488.05" stroke="#ff00ff"/>
</g>
<g font-family="&quot;Liberation Sans&quot;, sans-serif" font-size="61" fill="#000">
<text x="1531" y="136.20">pH 3</text>
<text x="1531" y="210.85">pH 6</text>
<text x="1531" y="285.50">original</text>
<text x="1531" y="360.15">pH 7</text>
<text x="1531" y="434.80">pH 8</text>
<text x="1531" y="509.45">pH 9</text>
<text x="402.23" y="1272" text-anchor="middle">400</text>
<text x="746.90" y="1272" text-anchor="middle">500</text>
<text x="1091.57" y="1272" text-anchor="middle">600</text>
<text x="1436.23" y="1272" text-anchor="middle">700</text>
<text x="1780.90" y="1272" text-anchor="middle">800</text>
<text x="191" y="1077.18" text-anchor="end">0</text>
<text x="191" y="823.33" text-anchor="end">1</text>
<text x="191" y="569.49" text-anchor="end">2</text>
<text x="191" y="315.64" text-anchor="end">3</text>
<text x="191" y="61.80" text-anchor="end">4</text>
</g>
<g font-family="&quot;Liberation Sans&quot;, sans-serif" font-size="66.5" fill="#000">
<text x="1008" y="1379" text-anchor="middle">Wavelength (nm)</text>
<text transform="translate(62.8 658.9) rotate(-90)" text-anchor="middle" textLength="351.9" lengthAdjust="spacing">Absorbance</text>
</g>
</svg>
</body></html>
